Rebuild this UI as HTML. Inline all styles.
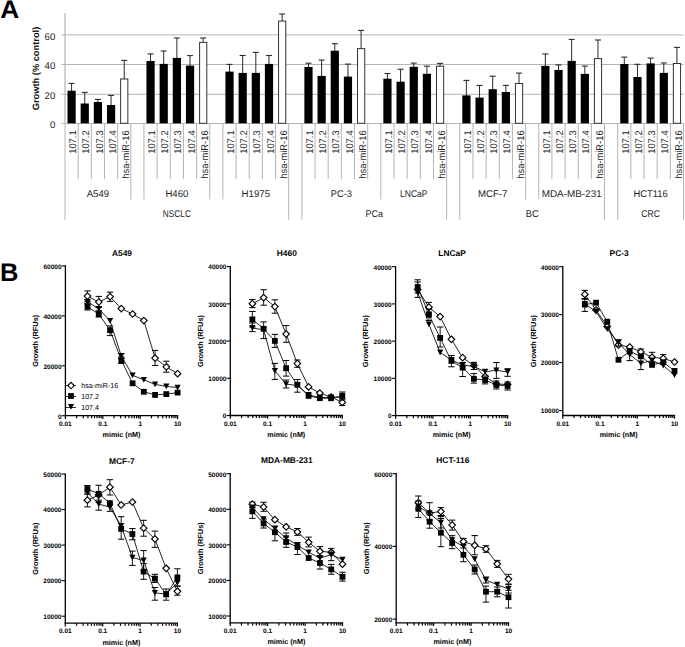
<!DOCTYPE html>
<html><head><meta charset="utf-8"><style>
html,body{margin:0;padding:0;background:#fff;}
svg{display:block;font-family:"Liberation Sans", sans-serif;text-rendering:geometricPrecision;}
</style></head><body>
<svg width="685" height="647" viewBox="0 0 685 647">
<rect width="685" height="647" fill="#fff"/>
<line x1="61.5" y1="34.90" x2="683.6" y2="34.90" stroke="#b4b4b4" stroke-width="1"/>
<line x1="61.5" y1="64.50" x2="683.6" y2="64.50" stroke="#b4b4b4" stroke-width="1"/>
<line x1="61.5" y1="94.30" x2="683.6" y2="94.30" stroke="#b4b4b4" stroke-width="1"/>
<line x1="61.5" y1="123.5" x2="683.6" y2="123.5" stroke="#b4b4b4" stroke-width="1"/>
<line x1="65" y1="13" x2="65" y2="123.4" stroke="#b4b4b4" stroke-width="1.2"/>
<text x="55.4" y="128.30" text-anchor="end" font-size="9.8" fill="#1e1e1e" textLength="5.4" lengthAdjust="spacingAndGlyphs">0</text>
<text x="55.4" y="98.80" text-anchor="end" font-size="9.8" fill="#1e1e1e" textLength="10.8" lengthAdjust="spacingAndGlyphs">20</text>
<text x="55.4" y="69.30" text-anchor="end" font-size="9.8" fill="#1e1e1e" textLength="10.8" lengthAdjust="spacingAndGlyphs">40</text>
<text x="55.4" y="39.80" text-anchor="end" font-size="9.8" fill="#1e1e1e" textLength="10.8" lengthAdjust="spacingAndGlyphs">60</text>
<text transform="translate(38.7,68.5) rotate(-90)" text-anchor="middle" font-size="9.2" font-weight="bold" fill="#111" textLength="83.5" lengthAdjust="spacingAndGlyphs">Growth (% control)</text>
<line x1="71.58" y1="91.20" x2="71.58" y2="83.40" stroke="#2a2a2a" stroke-width="1"/>
<line x1="68.58" y1="83.40" x2="74.58" y2="83.40" stroke="#2a2a2a" stroke-width="1.1"/>
<rect x="67.50" y="90.70" width="8.2" height="32.60" fill="#000"/>
<line x1="84.74" y1="104.00" x2="84.74" y2="92.40" stroke="#2a2a2a" stroke-width="1"/>
<line x1="81.74" y1="92.40" x2="87.74" y2="92.40" stroke="#2a2a2a" stroke-width="1.1"/>
<rect x="80.66" y="103.50" width="8.2" height="19.80" fill="#000"/>
<line x1="97.90" y1="102.50" x2="97.90" y2="99.40" stroke="#2a2a2a" stroke-width="1"/>
<line x1="94.90" y1="99.40" x2="100.90" y2="99.40" stroke="#2a2a2a" stroke-width="1.1"/>
<rect x="93.82" y="102.00" width="8.2" height="21.30" fill="#000"/>
<line x1="111.06" y1="105.50" x2="111.06" y2="95.40" stroke="#2a2a2a" stroke-width="1"/>
<line x1="108.06" y1="95.40" x2="114.06" y2="95.40" stroke="#2a2a2a" stroke-width="1.1"/>
<rect x="106.98" y="105.00" width="8.2" height="18.30" fill="#000"/>
<line x1="124.22" y1="79.00" x2="124.22" y2="60.40" stroke="#2a2a2a" stroke-width="1"/>
<line x1="121.22" y1="60.40" x2="127.22" y2="60.40" stroke="#2a2a2a" stroke-width="1.1"/>
<rect x="120.64" y="79.00" width="7.2" height="44.30" fill="#fff" stroke="#333" stroke-width="1"/>
<line x1="150.54" y1="61.50" x2="150.54" y2="53.90" stroke="#2a2a2a" stroke-width="1"/>
<line x1="147.54" y1="53.90" x2="153.54" y2="53.90" stroke="#2a2a2a" stroke-width="1.1"/>
<rect x="146.46" y="61.00" width="8.2" height="62.30" fill="#000"/>
<line x1="163.70" y1="64.40" x2="163.70" y2="51.00" stroke="#2a2a2a" stroke-width="1"/>
<line x1="160.70" y1="51.00" x2="166.70" y2="51.00" stroke="#2a2a2a" stroke-width="1.1"/>
<rect x="159.62" y="63.90" width="8.2" height="59.40" fill="#000"/>
<line x1="176.86" y1="58.40" x2="176.86" y2="38.00" stroke="#2a2a2a" stroke-width="1"/>
<line x1="173.86" y1="38.00" x2="179.86" y2="38.00" stroke="#2a2a2a" stroke-width="1.1"/>
<rect x="172.78" y="57.90" width="8.2" height="65.40" fill="#000"/>
<line x1="190.02" y1="66.10" x2="190.02" y2="55.60" stroke="#2a2a2a" stroke-width="1"/>
<line x1="187.02" y1="55.60" x2="193.02" y2="55.60" stroke="#2a2a2a" stroke-width="1.1"/>
<rect x="185.94" y="65.60" width="8.2" height="57.70" fill="#000"/>
<line x1="203.18" y1="42.40" x2="203.18" y2="38.00" stroke="#2a2a2a" stroke-width="1"/>
<line x1="200.18" y1="38.00" x2="206.18" y2="38.00" stroke="#2a2a2a" stroke-width="1.1"/>
<rect x="199.60" y="42.40" width="7.2" height="80.90" fill="#fff" stroke="#333" stroke-width="1"/>
<line x1="229.50" y1="72.10" x2="229.50" y2="64.40" stroke="#2a2a2a" stroke-width="1"/>
<line x1="226.50" y1="64.40" x2="232.50" y2="64.40" stroke="#2a2a2a" stroke-width="1.1"/>
<rect x="225.42" y="71.60" width="8.2" height="51.70" fill="#000"/>
<line x1="242.66" y1="73.40" x2="242.66" y2="55.50" stroke="#2a2a2a" stroke-width="1"/>
<line x1="239.66" y1="55.50" x2="245.66" y2="55.50" stroke="#2a2a2a" stroke-width="1.1"/>
<rect x="238.58" y="72.90" width="8.2" height="50.40" fill="#000"/>
<line x1="255.82" y1="73.40" x2="255.82" y2="52.40" stroke="#2a2a2a" stroke-width="1"/>
<line x1="252.82" y1="52.40" x2="258.82" y2="52.40" stroke="#2a2a2a" stroke-width="1.1"/>
<rect x="251.74" y="72.90" width="8.2" height="50.40" fill="#000"/>
<line x1="268.98" y1="64.40" x2="268.98" y2="55.50" stroke="#2a2a2a" stroke-width="1"/>
<line x1="265.98" y1="55.50" x2="271.98" y2="55.50" stroke="#2a2a2a" stroke-width="1.1"/>
<rect x="264.90" y="63.90" width="8.2" height="59.40" fill="#000"/>
<line x1="282.14" y1="21.10" x2="282.14" y2="14.00" stroke="#2a2a2a" stroke-width="1"/>
<line x1="279.14" y1="14.00" x2="285.14" y2="14.00" stroke="#2a2a2a" stroke-width="1.1"/>
<rect x="278.56" y="21.10" width="7.2" height="102.20" fill="#fff" stroke="#333" stroke-width="1"/>
<line x1="308.46" y1="67.50" x2="308.46" y2="63.20" stroke="#2a2a2a" stroke-width="1"/>
<line x1="305.46" y1="63.20" x2="311.46" y2="63.20" stroke="#2a2a2a" stroke-width="1.1"/>
<rect x="304.38" y="67.00" width="8.2" height="56.30" fill="#000"/>
<line x1="321.62" y1="76.40" x2="321.62" y2="60.10" stroke="#2a2a2a" stroke-width="1"/>
<line x1="318.62" y1="60.10" x2="324.62" y2="60.10" stroke="#2a2a2a" stroke-width="1.1"/>
<rect x="317.54" y="75.90" width="8.2" height="47.40" fill="#000"/>
<line x1="334.78" y1="51.20" x2="334.78" y2="43.70" stroke="#2a2a2a" stroke-width="1"/>
<line x1="331.78" y1="43.70" x2="337.78" y2="43.70" stroke="#2a2a2a" stroke-width="1.1"/>
<rect x="330.70" y="50.70" width="8.2" height="72.60" fill="#000"/>
<line x1="347.94" y1="77.10" x2="347.94" y2="64.10" stroke="#2a2a2a" stroke-width="1"/>
<line x1="344.94" y1="64.10" x2="350.94" y2="64.10" stroke="#2a2a2a" stroke-width="1.1"/>
<rect x="343.86" y="76.60" width="8.2" height="46.70" fill="#000"/>
<line x1="361.10" y1="48.60" x2="361.10" y2="30.40" stroke="#2a2a2a" stroke-width="1"/>
<line x1="358.10" y1="30.40" x2="364.10" y2="30.40" stroke="#2a2a2a" stroke-width="1.1"/>
<rect x="357.52" y="48.60" width="7.2" height="74.70" fill="#fff" stroke="#333" stroke-width="1"/>
<line x1="387.42" y1="79.20" x2="387.42" y2="73.50" stroke="#2a2a2a" stroke-width="1"/>
<line x1="384.42" y1="73.50" x2="390.42" y2="73.50" stroke="#2a2a2a" stroke-width="1.1"/>
<rect x="383.34" y="78.70" width="8.2" height="44.60" fill="#000"/>
<line x1="400.58" y1="82.20" x2="400.58" y2="69.30" stroke="#2a2a2a" stroke-width="1"/>
<line x1="397.58" y1="69.30" x2="403.58" y2="69.30" stroke="#2a2a2a" stroke-width="1.1"/>
<rect x="396.50" y="81.70" width="8.2" height="41.60" fill="#000"/>
<line x1="413.74" y1="67.30" x2="413.74" y2="63.10" stroke="#2a2a2a" stroke-width="1"/>
<line x1="410.74" y1="63.10" x2="416.74" y2="63.10" stroke="#2a2a2a" stroke-width="1.1"/>
<rect x="409.66" y="66.80" width="8.2" height="56.50" fill="#000"/>
<line x1="426.90" y1="74.30" x2="426.90" y2="66.20" stroke="#2a2a2a" stroke-width="1"/>
<line x1="423.90" y1="66.20" x2="429.90" y2="66.20" stroke="#2a2a2a" stroke-width="1.1"/>
<rect x="422.82" y="73.80" width="8.2" height="49.50" fill="#000"/>
<line x1="440.06" y1="66.20" x2="440.06" y2="63.40" stroke="#2a2a2a" stroke-width="1"/>
<line x1="437.06" y1="63.40" x2="443.06" y2="63.40" stroke="#2a2a2a" stroke-width="1.1"/>
<rect x="436.48" y="66.20" width="7.2" height="57.10" fill="#fff" stroke="#333" stroke-width="1"/>
<line x1="466.38" y1="95.90" x2="466.38" y2="80.40" stroke="#2a2a2a" stroke-width="1"/>
<line x1="463.38" y1="80.40" x2="469.38" y2="80.40" stroke="#2a2a2a" stroke-width="1.1"/>
<rect x="462.30" y="95.40" width="8.2" height="27.90" fill="#000"/>
<line x1="479.54" y1="98.10" x2="479.54" y2="85.40" stroke="#2a2a2a" stroke-width="1"/>
<line x1="476.54" y1="85.40" x2="482.54" y2="85.40" stroke="#2a2a2a" stroke-width="1.1"/>
<rect x="475.46" y="97.60" width="8.2" height="25.70" fill="#000"/>
<line x1="492.70" y1="89.70" x2="492.70" y2="76.20" stroke="#2a2a2a" stroke-width="1"/>
<line x1="489.70" y1="76.20" x2="495.70" y2="76.20" stroke="#2a2a2a" stroke-width="1.1"/>
<rect x="488.62" y="89.20" width="8.2" height="34.10" fill="#000"/>
<line x1="505.86" y1="92.50" x2="505.86" y2="85.40" stroke="#2a2a2a" stroke-width="1"/>
<line x1="502.86" y1="85.40" x2="508.86" y2="85.40" stroke="#2a2a2a" stroke-width="1.1"/>
<rect x="501.78" y="92.00" width="8.2" height="31.30" fill="#000"/>
<line x1="519.02" y1="83.50" x2="519.02" y2="73.10" stroke="#2a2a2a" stroke-width="1"/>
<line x1="516.02" y1="73.10" x2="522.02" y2="73.10" stroke="#2a2a2a" stroke-width="1.1"/>
<rect x="515.44" y="83.50" width="7.2" height="39.80" fill="#fff" stroke="#333" stroke-width="1"/>
<line x1="545.34" y1="66.40" x2="545.34" y2="54.00" stroke="#2a2a2a" stroke-width="1"/>
<line x1="542.34" y1="54.00" x2="548.34" y2="54.00" stroke="#2a2a2a" stroke-width="1.1"/>
<rect x="541.26" y="65.90" width="8.2" height="57.40" fill="#000"/>
<line x1="558.50" y1="70.40" x2="558.50" y2="64.90" stroke="#2a2a2a" stroke-width="1"/>
<line x1="555.50" y1="64.90" x2="561.50" y2="64.90" stroke="#2a2a2a" stroke-width="1.1"/>
<rect x="554.42" y="69.90" width="8.2" height="53.40" fill="#000"/>
<line x1="571.66" y1="61.40" x2="571.66" y2="39.40" stroke="#2a2a2a" stroke-width="1"/>
<line x1="568.66" y1="39.40" x2="574.66" y2="39.40" stroke="#2a2a2a" stroke-width="1.1"/>
<rect x="567.58" y="60.90" width="8.2" height="62.40" fill="#000"/>
<line x1="584.82" y1="74.40" x2="584.82" y2="66.10" stroke="#2a2a2a" stroke-width="1"/>
<line x1="581.82" y1="66.10" x2="587.82" y2="66.10" stroke="#2a2a2a" stroke-width="1.1"/>
<rect x="580.74" y="73.90" width="8.2" height="49.40" fill="#000"/>
<line x1="597.98" y1="58.60" x2="597.98" y2="40.00" stroke="#2a2a2a" stroke-width="1"/>
<line x1="594.98" y1="40.00" x2="600.98" y2="40.00" stroke="#2a2a2a" stroke-width="1.1"/>
<rect x="594.40" y="58.60" width="7.2" height="64.70" fill="#fff" stroke="#333" stroke-width="1"/>
<line x1="624.30" y1="64.50" x2="624.30" y2="57.10" stroke="#2a2a2a" stroke-width="1"/>
<line x1="621.30" y1="57.10" x2="627.30" y2="57.10" stroke="#2a2a2a" stroke-width="1.1"/>
<rect x="620.22" y="64.00" width="8.2" height="59.30" fill="#000"/>
<line x1="637.46" y1="77.50" x2="637.46" y2="64.30" stroke="#2a2a2a" stroke-width="1"/>
<line x1="634.46" y1="64.30" x2="640.46" y2="64.30" stroke="#2a2a2a" stroke-width="1.1"/>
<rect x="633.38" y="77.00" width="8.2" height="46.30" fill="#000"/>
<line x1="650.62" y1="63.90" x2="650.62" y2="58.10" stroke="#2a2a2a" stroke-width="1"/>
<line x1="647.62" y1="58.10" x2="653.62" y2="58.10" stroke="#2a2a2a" stroke-width="1.1"/>
<rect x="646.54" y="63.40" width="8.2" height="59.90" fill="#000"/>
<line x1="663.78" y1="73.40" x2="663.78" y2="63.00" stroke="#2a2a2a" stroke-width="1"/>
<line x1="660.78" y1="63.00" x2="666.78" y2="63.00" stroke="#2a2a2a" stroke-width="1.1"/>
<rect x="659.70" y="72.90" width="8.2" height="50.40" fill="#000"/>
<line x1="676.94" y1="63.50" x2="676.94" y2="47.40" stroke="#2a2a2a" stroke-width="1"/>
<line x1="673.94" y1="47.40" x2="679.94" y2="47.40" stroke="#2a2a2a" stroke-width="1.1"/>
<rect x="673.36" y="63.50" width="7.2" height="59.80" fill="#fff" stroke="#333" stroke-width="1"/>
<line x1="65.00" y1="123.4" x2="65.00" y2="219.7" stroke="#b4b4b4" stroke-width="1"/>
<line x1="78.16" y1="123.4" x2="78.16" y2="179.2" stroke="#b4b4b4" stroke-width="1"/>
<line x1="91.32" y1="123.4" x2="91.32" y2="179.2" stroke="#b4b4b4" stroke-width="1"/>
<line x1="104.48" y1="123.4" x2="104.48" y2="179.2" stroke="#b4b4b4" stroke-width="1"/>
<line x1="117.64" y1="123.4" x2="117.64" y2="179.2" stroke="#b4b4b4" stroke-width="1"/>
<line x1="130.80" y1="123.4" x2="130.80" y2="199.4" stroke="#b4b4b4" stroke-width="1"/>
<line x1="143.96" y1="123.4" x2="143.96" y2="199.4" stroke="#b4b4b4" stroke-width="1"/>
<line x1="157.12" y1="123.4" x2="157.12" y2="179.2" stroke="#b4b4b4" stroke-width="1"/>
<line x1="170.28" y1="123.4" x2="170.28" y2="179.2" stroke="#b4b4b4" stroke-width="1"/>
<line x1="183.44" y1="123.4" x2="183.44" y2="179.2" stroke="#b4b4b4" stroke-width="1"/>
<line x1="196.60" y1="123.4" x2="196.60" y2="179.2" stroke="#b4b4b4" stroke-width="1"/>
<line x1="209.76" y1="123.4" x2="209.76" y2="199.4" stroke="#b4b4b4" stroke-width="1"/>
<line x1="222.92" y1="123.4" x2="222.92" y2="199.4" stroke="#b4b4b4" stroke-width="1"/>
<line x1="236.08" y1="123.4" x2="236.08" y2="179.2" stroke="#b4b4b4" stroke-width="1"/>
<line x1="249.24" y1="123.4" x2="249.24" y2="179.2" stroke="#b4b4b4" stroke-width="1"/>
<line x1="262.40" y1="123.4" x2="262.40" y2="179.2" stroke="#b4b4b4" stroke-width="1"/>
<line x1="275.56" y1="123.4" x2="275.56" y2="179.2" stroke="#b4b4b4" stroke-width="1"/>
<line x1="288.72" y1="123.4" x2="288.72" y2="219.7" stroke="#b4b4b4" stroke-width="1"/>
<line x1="301.88" y1="123.4" x2="301.88" y2="219.7" stroke="#b4b4b4" stroke-width="1"/>
<line x1="315.04" y1="123.4" x2="315.04" y2="179.2" stroke="#b4b4b4" stroke-width="1"/>
<line x1="328.20" y1="123.4" x2="328.20" y2="179.2" stroke="#b4b4b4" stroke-width="1"/>
<line x1="341.36" y1="123.4" x2="341.36" y2="179.2" stroke="#b4b4b4" stroke-width="1"/>
<line x1="354.52" y1="123.4" x2="354.52" y2="179.2" stroke="#b4b4b4" stroke-width="1"/>
<line x1="367.68" y1="123.4" x2="367.68" y2="179.2" stroke="#b4b4b4" stroke-width="1"/>
<line x1="380.84" y1="123.4" x2="380.84" y2="199.4" stroke="#b4b4b4" stroke-width="1"/>
<line x1="394.00" y1="123.4" x2="394.00" y2="179.2" stroke="#b4b4b4" stroke-width="1"/>
<line x1="407.16" y1="123.4" x2="407.16" y2="179.2" stroke="#b4b4b4" stroke-width="1"/>
<line x1="420.32" y1="123.4" x2="420.32" y2="179.2" stroke="#b4b4b4" stroke-width="1"/>
<line x1="433.48" y1="123.4" x2="433.48" y2="179.2" stroke="#b4b4b4" stroke-width="1"/>
<line x1="446.64" y1="123.4" x2="446.64" y2="219.7" stroke="#b4b4b4" stroke-width="1"/>
<line x1="459.80" y1="123.4" x2="459.80" y2="219.7" stroke="#b4b4b4" stroke-width="1"/>
<line x1="472.96" y1="123.4" x2="472.96" y2="179.2" stroke="#b4b4b4" stroke-width="1"/>
<line x1="486.12" y1="123.4" x2="486.12" y2="179.2" stroke="#b4b4b4" stroke-width="1"/>
<line x1="499.28" y1="123.4" x2="499.28" y2="179.2" stroke="#b4b4b4" stroke-width="1"/>
<line x1="512.44" y1="123.4" x2="512.44" y2="179.2" stroke="#b4b4b4" stroke-width="1"/>
<line x1="525.60" y1="123.4" x2="525.60" y2="199.4" stroke="#b4b4b4" stroke-width="1"/>
<line x1="538.76" y1="123.4" x2="538.76" y2="199.4" stroke="#b4b4b4" stroke-width="1"/>
<line x1="551.92" y1="123.4" x2="551.92" y2="179.2" stroke="#b4b4b4" stroke-width="1"/>
<line x1="565.08" y1="123.4" x2="565.08" y2="179.2" stroke="#b4b4b4" stroke-width="1"/>
<line x1="578.24" y1="123.4" x2="578.24" y2="179.2" stroke="#b4b4b4" stroke-width="1"/>
<line x1="591.40" y1="123.4" x2="591.40" y2="179.2" stroke="#b4b4b4" stroke-width="1"/>
<line x1="604.56" y1="123.4" x2="604.56" y2="219.7" stroke="#b4b4b4" stroke-width="1"/>
<line x1="617.72" y1="123.4" x2="617.72" y2="219.7" stroke="#b4b4b4" stroke-width="1"/>
<line x1="630.88" y1="123.4" x2="630.88" y2="179.2" stroke="#b4b4b4" stroke-width="1"/>
<line x1="644.04" y1="123.4" x2="644.04" y2="179.2" stroke="#b4b4b4" stroke-width="1"/>
<line x1="657.20" y1="123.4" x2="657.20" y2="179.2" stroke="#b4b4b4" stroke-width="1"/>
<line x1="670.36" y1="123.4" x2="670.36" y2="179.2" stroke="#b4b4b4" stroke-width="1"/>
<line x1="683.52" y1="123.4" x2="683.52" y2="219.7" stroke="#b4b4b4" stroke-width="1"/>
<text transform="translate(76.18,130.4) rotate(-90)" text-anchor="end" font-size="9.8" fill="#1e1e1e" textLength="23.4" lengthAdjust="spacingAndGlyphs">107.1</text>
<text transform="translate(89.34,130.4) rotate(-90)" text-anchor="end" font-size="9.8" fill="#1e1e1e" textLength="23.4" lengthAdjust="spacingAndGlyphs">107.2</text>
<text transform="translate(102.50,130.4) rotate(-90)" text-anchor="end" font-size="9.8" fill="#1e1e1e" textLength="23.4" lengthAdjust="spacingAndGlyphs">107.3</text>
<text transform="translate(115.66,130.4) rotate(-90)" text-anchor="end" font-size="9.8" fill="#1e1e1e" textLength="23.4" lengthAdjust="spacingAndGlyphs">107.4</text>
<text transform="translate(128.82,130.4) rotate(-90)" text-anchor="end" font-size="9.8" fill="#1e1e1e" textLength="48.3" lengthAdjust="spacingAndGlyphs">hsa-miR-16</text>
<text transform="translate(155.14,130.4) rotate(-90)" text-anchor="end" font-size="9.8" fill="#1e1e1e" textLength="23.4" lengthAdjust="spacingAndGlyphs">107.1</text>
<text transform="translate(168.30,130.4) rotate(-90)" text-anchor="end" font-size="9.8" fill="#1e1e1e" textLength="23.4" lengthAdjust="spacingAndGlyphs">107.2</text>
<text transform="translate(181.46,130.4) rotate(-90)" text-anchor="end" font-size="9.8" fill="#1e1e1e" textLength="23.4" lengthAdjust="spacingAndGlyphs">107.3</text>
<text transform="translate(194.62,130.4) rotate(-90)" text-anchor="end" font-size="9.8" fill="#1e1e1e" textLength="23.4" lengthAdjust="spacingAndGlyphs">107.4</text>
<text transform="translate(207.78,130.4) rotate(-90)" text-anchor="end" font-size="9.8" fill="#1e1e1e" textLength="48.3" lengthAdjust="spacingAndGlyphs">hsa-miR-16</text>
<text transform="translate(234.10,130.4) rotate(-90)" text-anchor="end" font-size="9.8" fill="#1e1e1e" textLength="23.4" lengthAdjust="spacingAndGlyphs">107.1</text>
<text transform="translate(247.26,130.4) rotate(-90)" text-anchor="end" font-size="9.8" fill="#1e1e1e" textLength="23.4" lengthAdjust="spacingAndGlyphs">107.2</text>
<text transform="translate(260.42,130.4) rotate(-90)" text-anchor="end" font-size="9.8" fill="#1e1e1e" textLength="23.4" lengthAdjust="spacingAndGlyphs">107.3</text>
<text transform="translate(273.58,130.4) rotate(-90)" text-anchor="end" font-size="9.8" fill="#1e1e1e" textLength="23.4" lengthAdjust="spacingAndGlyphs">107.4</text>
<text transform="translate(286.74,130.4) rotate(-90)" text-anchor="end" font-size="9.8" fill="#1e1e1e" textLength="48.3" lengthAdjust="spacingAndGlyphs">hsa-miR-16</text>
<text transform="translate(313.06,130.4) rotate(-90)" text-anchor="end" font-size="9.8" fill="#1e1e1e" textLength="23.4" lengthAdjust="spacingAndGlyphs">107.1</text>
<text transform="translate(326.22,130.4) rotate(-90)" text-anchor="end" font-size="9.8" fill="#1e1e1e" textLength="23.4" lengthAdjust="spacingAndGlyphs">107.2</text>
<text transform="translate(339.38,130.4) rotate(-90)" text-anchor="end" font-size="9.8" fill="#1e1e1e" textLength="23.4" lengthAdjust="spacingAndGlyphs">107.3</text>
<text transform="translate(352.54,130.4) rotate(-90)" text-anchor="end" font-size="9.8" fill="#1e1e1e" textLength="23.4" lengthAdjust="spacingAndGlyphs">107.4</text>
<text transform="translate(365.70,130.4) rotate(-90)" text-anchor="end" font-size="9.8" fill="#1e1e1e" textLength="48.3" lengthAdjust="spacingAndGlyphs">hsa-miR-16</text>
<text transform="translate(392.02,130.4) rotate(-90)" text-anchor="end" font-size="9.8" fill="#1e1e1e" textLength="23.4" lengthAdjust="spacingAndGlyphs">107.1</text>
<text transform="translate(405.18,130.4) rotate(-90)" text-anchor="end" font-size="9.8" fill="#1e1e1e" textLength="23.4" lengthAdjust="spacingAndGlyphs">107.2</text>
<text transform="translate(418.34,130.4) rotate(-90)" text-anchor="end" font-size="9.8" fill="#1e1e1e" textLength="23.4" lengthAdjust="spacingAndGlyphs">107.3</text>
<text transform="translate(431.50,130.4) rotate(-90)" text-anchor="end" font-size="9.8" fill="#1e1e1e" textLength="23.4" lengthAdjust="spacingAndGlyphs">107.4</text>
<text transform="translate(444.66,130.4) rotate(-90)" text-anchor="end" font-size="9.8" fill="#1e1e1e" textLength="48.3" lengthAdjust="spacingAndGlyphs">hsa-miR-16</text>
<text transform="translate(470.98,130.4) rotate(-90)" text-anchor="end" font-size="9.8" fill="#1e1e1e" textLength="23.4" lengthAdjust="spacingAndGlyphs">107.1</text>
<text transform="translate(484.14,130.4) rotate(-90)" text-anchor="end" font-size="9.8" fill="#1e1e1e" textLength="23.4" lengthAdjust="spacingAndGlyphs">107.2</text>
<text transform="translate(497.30,130.4) rotate(-90)" text-anchor="end" font-size="9.8" fill="#1e1e1e" textLength="23.4" lengthAdjust="spacingAndGlyphs">107.3</text>
<text transform="translate(510.46,130.4) rotate(-90)" text-anchor="end" font-size="9.8" fill="#1e1e1e" textLength="23.4" lengthAdjust="spacingAndGlyphs">107.4</text>
<text transform="translate(523.62,130.4) rotate(-90)" text-anchor="end" font-size="9.8" fill="#1e1e1e" textLength="48.3" lengthAdjust="spacingAndGlyphs">hsa-miR-16</text>
<text transform="translate(549.94,130.4) rotate(-90)" text-anchor="end" font-size="9.8" fill="#1e1e1e" textLength="23.4" lengthAdjust="spacingAndGlyphs">107.1</text>
<text transform="translate(563.10,130.4) rotate(-90)" text-anchor="end" font-size="9.8" fill="#1e1e1e" textLength="23.4" lengthAdjust="spacingAndGlyphs">107.2</text>
<text transform="translate(576.26,130.4) rotate(-90)" text-anchor="end" font-size="9.8" fill="#1e1e1e" textLength="23.4" lengthAdjust="spacingAndGlyphs">107.3</text>
<text transform="translate(589.42,130.4) rotate(-90)" text-anchor="end" font-size="9.8" fill="#1e1e1e" textLength="23.4" lengthAdjust="spacingAndGlyphs">107.4</text>
<text transform="translate(602.58,130.4) rotate(-90)" text-anchor="end" font-size="9.8" fill="#1e1e1e" textLength="48.3" lengthAdjust="spacingAndGlyphs">hsa-miR-16</text>
<text transform="translate(628.90,130.4) rotate(-90)" text-anchor="end" font-size="9.8" fill="#1e1e1e" textLength="23.4" lengthAdjust="spacingAndGlyphs">107.1</text>
<text transform="translate(642.06,130.4) rotate(-90)" text-anchor="end" font-size="9.8" fill="#1e1e1e" textLength="23.4" lengthAdjust="spacingAndGlyphs">107.2</text>
<text transform="translate(655.22,130.4) rotate(-90)" text-anchor="end" font-size="9.8" fill="#1e1e1e" textLength="23.4" lengthAdjust="spacingAndGlyphs">107.3</text>
<text transform="translate(668.38,130.4) rotate(-90)" text-anchor="end" font-size="9.8" fill="#1e1e1e" textLength="23.4" lengthAdjust="spacingAndGlyphs">107.4</text>
<text transform="translate(681.54,130.4) rotate(-90)" text-anchor="end" font-size="9.8" fill="#1e1e1e" textLength="48.3" lengthAdjust="spacingAndGlyphs">hsa-miR-16</text>
<text x="97.90" y="197.0" text-anchor="middle" font-size="9.8" fill="#1e1e1e" textLength="22.3" lengthAdjust="spacingAndGlyphs">A549</text>
<text x="176.86" y="197.0" text-anchor="middle" font-size="9.8" fill="#1e1e1e" textLength="22.8" lengthAdjust="spacingAndGlyphs">H460</text>
<text x="255.82" y="197.0" text-anchor="middle" font-size="9.8" fill="#1e1e1e" textLength="28.5" lengthAdjust="spacingAndGlyphs">H1975</text>
<text x="341.36" y="197.0" text-anchor="middle" font-size="9.8" fill="#1e1e1e" textLength="21" lengthAdjust="spacingAndGlyphs">PC-3</text>
<text x="413.74" y="197.0" text-anchor="middle" font-size="9.8" fill="#1e1e1e" textLength="27.5" lengthAdjust="spacingAndGlyphs">LNCaP</text>
<text x="492.70" y="197.0" text-anchor="middle" font-size="9.8" fill="#1e1e1e" textLength="29.5" lengthAdjust="spacingAndGlyphs">MCF-7</text>
<text x="571.66" y="197.0" text-anchor="middle" font-size="9.8" fill="#1e1e1e" textLength="60" lengthAdjust="spacingAndGlyphs">MDA-MB-231</text>
<text x="650.62" y="197.0" text-anchor="middle" font-size="9.8" fill="#1e1e1e" textLength="34.3" lengthAdjust="spacingAndGlyphs">HCT116</text>
<text x="176.86" y="217.4" text-anchor="middle" font-size="9.8" fill="#1e1e1e" textLength="28" lengthAdjust="spacingAndGlyphs">NSCLC</text>
<text x="374.26" y="217.4" text-anchor="middle" font-size="9.8" fill="#1e1e1e" textLength="17.3" lengthAdjust="spacingAndGlyphs">PCa</text>
<text x="532.18" y="217.4" text-anchor="middle" font-size="9.8" fill="#1e1e1e" textLength="13" lengthAdjust="spacingAndGlyphs">BC</text>
<text x="650.62" y="217.4" text-anchor="middle" font-size="9.8" fill="#1e1e1e" textLength="18.5" lengthAdjust="spacingAndGlyphs">CRC</text>
<text transform="translate(0.3,18.3) scale(1.05,1.02)" font-size="25" font-weight="bold" fill="#000">A</text>
<text x="0" y="281.2" font-size="25.5" font-weight="bold" fill="#000">B</text>
<line x1="65.40" y1="265.30" x2="65.40" y2="416.30" stroke="#000" stroke-width="1.3"/>
<line x1="64.80" y1="415.70" x2="178.20" y2="415.70" stroke="#000" stroke-width="1.3"/>
<line x1="61.80" y1="415.70" x2="65.40" y2="415.70" stroke="#000" stroke-width="1.1"/>
<text x="61.50" y="418.50" text-anchor="end" font-size="6.5" font-weight="bold" fill="#000">0</text>
<line x1="61.80" y1="365.77" x2="65.40" y2="365.77" stroke="#000" stroke-width="1.1"/>
<text x="61.50" y="368.57" text-anchor="end" font-size="6.5" font-weight="bold" fill="#000">20000</text>
<line x1="61.80" y1="315.83" x2="65.40" y2="315.83" stroke="#000" stroke-width="1.1"/>
<text x="61.50" y="318.63" text-anchor="end" font-size="6.5" font-weight="bold" fill="#000">40000</text>
<line x1="61.80" y1="265.90" x2="65.40" y2="265.90" stroke="#000" stroke-width="1.1"/>
<text x="61.50" y="268.70" text-anchor="end" font-size="6.5" font-weight="bold" fill="#000">60000</text>
<line x1="65.40" y1="415.70" x2="65.40" y2="418.90" stroke="#000" stroke-width="1.2"/>
<line x1="76.66" y1="415.70" x2="76.66" y2="418.30" stroke="#000" stroke-width="1.2"/>
<line x1="83.24" y1="415.70" x2="83.24" y2="418.30" stroke="#000" stroke-width="1.2"/>
<line x1="87.92" y1="415.70" x2="87.92" y2="418.30" stroke="#000" stroke-width="1.2"/>
<line x1="91.54" y1="415.70" x2="91.54" y2="418.30" stroke="#000" stroke-width="1.2"/>
<line x1="94.50" y1="415.70" x2="94.50" y2="418.30" stroke="#000" stroke-width="1.2"/>
<line x1="97.01" y1="415.70" x2="97.01" y2="418.30" stroke="#000" stroke-width="1.2"/>
<line x1="99.18" y1="415.70" x2="99.18" y2="418.30" stroke="#000" stroke-width="1.2"/>
<line x1="101.09" y1="415.70" x2="101.09" y2="418.30" stroke="#000" stroke-width="1.2"/>
<line x1="102.80" y1="415.70" x2="102.80" y2="418.90" stroke="#000" stroke-width="1.2"/>
<line x1="114.06" y1="415.70" x2="114.06" y2="418.30" stroke="#000" stroke-width="1.2"/>
<line x1="120.64" y1="415.70" x2="120.64" y2="418.30" stroke="#000" stroke-width="1.2"/>
<line x1="125.32" y1="415.70" x2="125.32" y2="418.30" stroke="#000" stroke-width="1.2"/>
<line x1="128.94" y1="415.70" x2="128.94" y2="418.30" stroke="#000" stroke-width="1.2"/>
<line x1="131.90" y1="415.70" x2="131.90" y2="418.30" stroke="#000" stroke-width="1.2"/>
<line x1="134.41" y1="415.70" x2="134.41" y2="418.30" stroke="#000" stroke-width="1.2"/>
<line x1="136.58" y1="415.70" x2="136.58" y2="418.30" stroke="#000" stroke-width="1.2"/>
<line x1="138.49" y1="415.70" x2="138.49" y2="418.30" stroke="#000" stroke-width="1.2"/>
<line x1="140.20" y1="415.70" x2="140.20" y2="418.90" stroke="#000" stroke-width="1.2"/>
<line x1="151.46" y1="415.70" x2="151.46" y2="418.30" stroke="#000" stroke-width="1.2"/>
<line x1="158.04" y1="415.70" x2="158.04" y2="418.30" stroke="#000" stroke-width="1.2"/>
<line x1="162.72" y1="415.70" x2="162.72" y2="418.30" stroke="#000" stroke-width="1.2"/>
<line x1="166.34" y1="415.70" x2="166.34" y2="418.30" stroke="#000" stroke-width="1.2"/>
<line x1="169.30" y1="415.70" x2="169.30" y2="418.30" stroke="#000" stroke-width="1.2"/>
<line x1="171.81" y1="415.70" x2="171.81" y2="418.30" stroke="#000" stroke-width="1.2"/>
<line x1="173.98" y1="415.70" x2="173.98" y2="418.30" stroke="#000" stroke-width="1.2"/>
<line x1="175.89" y1="415.70" x2="175.89" y2="418.30" stroke="#000" stroke-width="1.2"/>
<line x1="177.60" y1="415.70" x2="177.60" y2="418.90" stroke="#000" stroke-width="1.2"/>
<text x="65.40" y="425.80" text-anchor="middle" font-size="6.5" font-weight="bold" fill="#000">0.01</text>
<text x="102.80" y="425.80" text-anchor="middle" font-size="6.5" font-weight="bold" fill="#000">0.1</text>
<text x="140.20" y="425.80" text-anchor="middle" font-size="6.5" font-weight="bold" fill="#000">1</text>
<text x="177.60" y="425.80" text-anchor="middle" font-size="6.5" font-weight="bold" fill="#000">10</text>
<text x="121.50" y="437.00" text-anchor="middle" font-size="7.2" font-weight="bold" fill="#000">mimic (nM)</text>
<text x="122.00" y="256.20" text-anchor="middle" font-size="8.4" font-weight="bold" fill="#000">A549</text>
<text transform="translate(38.20,340.80) rotate(-90)" text-anchor="middle" font-size="7.4" font-weight="bold" fill="#000">Growth (RFUs)</text>
<line x1="230.30" y1="266.00" x2="230.30" y2="416.10" stroke="#000" stroke-width="1.3"/>
<line x1="229.70" y1="415.50" x2="342.90" y2="415.50" stroke="#000" stroke-width="1.3"/>
<line x1="226.70" y1="415.50" x2="230.30" y2="415.50" stroke="#000" stroke-width="1.1"/>
<text x="226.40" y="418.30" text-anchor="end" font-size="6.5" font-weight="bold" fill="#000">0</text>
<line x1="226.70" y1="378.27" x2="230.30" y2="378.27" stroke="#000" stroke-width="1.1"/>
<text x="226.40" y="381.07" text-anchor="end" font-size="6.5" font-weight="bold" fill="#000">10000</text>
<line x1="226.70" y1="341.05" x2="230.30" y2="341.05" stroke="#000" stroke-width="1.1"/>
<text x="226.40" y="343.85" text-anchor="end" font-size="6.5" font-weight="bold" fill="#000">20000</text>
<line x1="226.70" y1="303.83" x2="230.30" y2="303.83" stroke="#000" stroke-width="1.1"/>
<text x="226.40" y="306.63" text-anchor="end" font-size="6.5" font-weight="bold" fill="#000">30000</text>
<line x1="226.70" y1="266.60" x2="230.30" y2="266.60" stroke="#000" stroke-width="1.1"/>
<text x="226.40" y="269.40" text-anchor="end" font-size="6.5" font-weight="bold" fill="#000">40000</text>
<line x1="230.30" y1="415.50" x2="230.30" y2="418.70" stroke="#000" stroke-width="1.2"/>
<line x1="241.54" y1="415.50" x2="241.54" y2="418.10" stroke="#000" stroke-width="1.2"/>
<line x1="248.11" y1="415.50" x2="248.11" y2="418.10" stroke="#000" stroke-width="1.2"/>
<line x1="252.78" y1="415.50" x2="252.78" y2="418.10" stroke="#000" stroke-width="1.2"/>
<line x1="256.39" y1="415.50" x2="256.39" y2="418.10" stroke="#000" stroke-width="1.2"/>
<line x1="259.35" y1="415.50" x2="259.35" y2="418.10" stroke="#000" stroke-width="1.2"/>
<line x1="261.85" y1="415.50" x2="261.85" y2="418.10" stroke="#000" stroke-width="1.2"/>
<line x1="264.02" y1="415.50" x2="264.02" y2="418.10" stroke="#000" stroke-width="1.2"/>
<line x1="265.93" y1="415.50" x2="265.93" y2="418.10" stroke="#000" stroke-width="1.2"/>
<line x1="267.63" y1="415.50" x2="267.63" y2="418.70" stroke="#000" stroke-width="1.2"/>
<line x1="278.87" y1="415.50" x2="278.87" y2="418.10" stroke="#000" stroke-width="1.2"/>
<line x1="285.45" y1="415.50" x2="285.45" y2="418.10" stroke="#000" stroke-width="1.2"/>
<line x1="290.11" y1="415.50" x2="290.11" y2="418.10" stroke="#000" stroke-width="1.2"/>
<line x1="293.73" y1="415.50" x2="293.73" y2="418.10" stroke="#000" stroke-width="1.2"/>
<line x1="296.68" y1="415.50" x2="296.68" y2="418.10" stroke="#000" stroke-width="1.2"/>
<line x1="299.18" y1="415.50" x2="299.18" y2="418.10" stroke="#000" stroke-width="1.2"/>
<line x1="301.35" y1="415.50" x2="301.35" y2="418.10" stroke="#000" stroke-width="1.2"/>
<line x1="303.26" y1="415.50" x2="303.26" y2="418.10" stroke="#000" stroke-width="1.2"/>
<line x1="304.97" y1="415.50" x2="304.97" y2="418.70" stroke="#000" stroke-width="1.2"/>
<line x1="316.21" y1="415.50" x2="316.21" y2="418.10" stroke="#000" stroke-width="1.2"/>
<line x1="322.78" y1="415.50" x2="322.78" y2="418.10" stroke="#000" stroke-width="1.2"/>
<line x1="327.44" y1="415.50" x2="327.44" y2="418.10" stroke="#000" stroke-width="1.2"/>
<line x1="331.06" y1="415.50" x2="331.06" y2="418.10" stroke="#000" stroke-width="1.2"/>
<line x1="334.02" y1="415.50" x2="334.02" y2="418.10" stroke="#000" stroke-width="1.2"/>
<line x1="336.52" y1="415.50" x2="336.52" y2="418.10" stroke="#000" stroke-width="1.2"/>
<line x1="338.68" y1="415.50" x2="338.68" y2="418.10" stroke="#000" stroke-width="1.2"/>
<line x1="340.59" y1="415.50" x2="340.59" y2="418.10" stroke="#000" stroke-width="1.2"/>
<line x1="342.30" y1="415.50" x2="342.30" y2="418.70" stroke="#000" stroke-width="1.2"/>
<text x="230.30" y="425.60" text-anchor="middle" font-size="6.5" font-weight="bold" fill="#000">0.01</text>
<text x="267.63" y="425.60" text-anchor="middle" font-size="6.5" font-weight="bold" fill="#000">0.1</text>
<text x="304.97" y="425.60" text-anchor="middle" font-size="6.5" font-weight="bold" fill="#000">1</text>
<text x="342.30" y="425.60" text-anchor="middle" font-size="6.5" font-weight="bold" fill="#000">10</text>
<text x="286.30" y="436.80" text-anchor="middle" font-size="7.2" font-weight="bold" fill="#000">mimic (nM)</text>
<text x="286.80" y="256.00" text-anchor="middle" font-size="8.4" font-weight="bold" fill="#000">H460</text>
<text transform="translate(203.10,341.05) rotate(-90)" text-anchor="middle" font-size="7.4" font-weight="bold" fill="#000">Growth (RFUs)</text>
<line x1="395.60" y1="266.10" x2="395.60" y2="416.20" stroke="#000" stroke-width="1.3"/>
<line x1="395.00" y1="415.60" x2="508.20" y2="415.60" stroke="#000" stroke-width="1.3"/>
<line x1="392.00" y1="415.60" x2="395.60" y2="415.60" stroke="#000" stroke-width="1.1"/>
<text x="391.70" y="418.40" text-anchor="end" font-size="6.5" font-weight="bold" fill="#000">0</text>
<line x1="392.00" y1="378.38" x2="395.60" y2="378.38" stroke="#000" stroke-width="1.1"/>
<text x="391.70" y="381.18" text-anchor="end" font-size="6.5" font-weight="bold" fill="#000">10000</text>
<line x1="392.00" y1="341.15" x2="395.60" y2="341.15" stroke="#000" stroke-width="1.1"/>
<text x="391.70" y="343.95" text-anchor="end" font-size="6.5" font-weight="bold" fill="#000">20000</text>
<line x1="392.00" y1="303.93" x2="395.60" y2="303.93" stroke="#000" stroke-width="1.1"/>
<text x="391.70" y="306.73" text-anchor="end" font-size="6.5" font-weight="bold" fill="#000">30000</text>
<line x1="392.00" y1="266.70" x2="395.60" y2="266.70" stroke="#000" stroke-width="1.1"/>
<text x="391.70" y="269.50" text-anchor="end" font-size="6.5" font-weight="bold" fill="#000">40000</text>
<line x1="395.60" y1="415.60" x2="395.60" y2="418.80" stroke="#000" stroke-width="1.2"/>
<line x1="406.84" y1="415.60" x2="406.84" y2="418.20" stroke="#000" stroke-width="1.2"/>
<line x1="413.41" y1="415.60" x2="413.41" y2="418.20" stroke="#000" stroke-width="1.2"/>
<line x1="418.08" y1="415.60" x2="418.08" y2="418.20" stroke="#000" stroke-width="1.2"/>
<line x1="421.69" y1="415.60" x2="421.69" y2="418.20" stroke="#000" stroke-width="1.2"/>
<line x1="424.65" y1="415.60" x2="424.65" y2="418.20" stroke="#000" stroke-width="1.2"/>
<line x1="427.15" y1="415.60" x2="427.15" y2="418.20" stroke="#000" stroke-width="1.2"/>
<line x1="429.32" y1="415.60" x2="429.32" y2="418.20" stroke="#000" stroke-width="1.2"/>
<line x1="431.23" y1="415.60" x2="431.23" y2="418.20" stroke="#000" stroke-width="1.2"/>
<line x1="432.93" y1="415.60" x2="432.93" y2="418.80" stroke="#000" stroke-width="1.2"/>
<line x1="444.17" y1="415.60" x2="444.17" y2="418.20" stroke="#000" stroke-width="1.2"/>
<line x1="450.75" y1="415.60" x2="450.75" y2="418.20" stroke="#000" stroke-width="1.2"/>
<line x1="455.41" y1="415.60" x2="455.41" y2="418.20" stroke="#000" stroke-width="1.2"/>
<line x1="459.03" y1="415.60" x2="459.03" y2="418.20" stroke="#000" stroke-width="1.2"/>
<line x1="461.98" y1="415.60" x2="461.98" y2="418.20" stroke="#000" stroke-width="1.2"/>
<line x1="464.48" y1="415.60" x2="464.48" y2="418.20" stroke="#000" stroke-width="1.2"/>
<line x1="466.65" y1="415.60" x2="466.65" y2="418.20" stroke="#000" stroke-width="1.2"/>
<line x1="468.56" y1="415.60" x2="468.56" y2="418.20" stroke="#000" stroke-width="1.2"/>
<line x1="470.27" y1="415.60" x2="470.27" y2="418.80" stroke="#000" stroke-width="1.2"/>
<line x1="481.51" y1="415.60" x2="481.51" y2="418.20" stroke="#000" stroke-width="1.2"/>
<line x1="488.08" y1="415.60" x2="488.08" y2="418.20" stroke="#000" stroke-width="1.2"/>
<line x1="492.74" y1="415.60" x2="492.74" y2="418.20" stroke="#000" stroke-width="1.2"/>
<line x1="496.36" y1="415.60" x2="496.36" y2="418.20" stroke="#000" stroke-width="1.2"/>
<line x1="499.32" y1="415.60" x2="499.32" y2="418.20" stroke="#000" stroke-width="1.2"/>
<line x1="501.82" y1="415.60" x2="501.82" y2="418.20" stroke="#000" stroke-width="1.2"/>
<line x1="503.98" y1="415.60" x2="503.98" y2="418.20" stroke="#000" stroke-width="1.2"/>
<line x1="505.89" y1="415.60" x2="505.89" y2="418.20" stroke="#000" stroke-width="1.2"/>
<line x1="507.60" y1="415.60" x2="507.60" y2="418.80" stroke="#000" stroke-width="1.2"/>
<text x="395.60" y="425.70" text-anchor="middle" font-size="6.5" font-weight="bold" fill="#000">0.01</text>
<text x="432.93" y="425.70" text-anchor="middle" font-size="6.5" font-weight="bold" fill="#000">0.1</text>
<text x="470.27" y="425.70" text-anchor="middle" font-size="6.5" font-weight="bold" fill="#000">1</text>
<text x="507.60" y="425.70" text-anchor="middle" font-size="6.5" font-weight="bold" fill="#000">10</text>
<text x="451.60" y="436.90" text-anchor="middle" font-size="7.2" font-weight="bold" fill="#000">mimic (nM)</text>
<text x="452.10" y="256.10" text-anchor="middle" font-size="8.4" font-weight="bold" fill="#000">LNCaP</text>
<text transform="translate(368.40,341.15) rotate(-90)" text-anchor="middle" font-size="7.4" font-weight="bold" fill="#000">Growth (RFUs)</text>
<line x1="562.80" y1="266.10" x2="562.80" y2="416.10" stroke="#000" stroke-width="1.3"/>
<line x1="562.20" y1="415.50" x2="675.10" y2="415.50" stroke="#000" stroke-width="1.3"/>
<line x1="559.20" y1="410.60" x2="562.80" y2="410.60" stroke="#000" stroke-width="1.1"/>
<text x="558.90" y="413.40" text-anchor="end" font-size="6.5" font-weight="bold" fill="#000">10000</text>
<line x1="559.20" y1="362.63" x2="562.80" y2="362.63" stroke="#000" stroke-width="1.1"/>
<text x="558.90" y="365.43" text-anchor="end" font-size="6.5" font-weight="bold" fill="#000">20000</text>
<line x1="559.20" y1="314.67" x2="562.80" y2="314.67" stroke="#000" stroke-width="1.1"/>
<text x="558.90" y="317.47" text-anchor="end" font-size="6.5" font-weight="bold" fill="#000">30000</text>
<line x1="559.20" y1="266.70" x2="562.80" y2="266.70" stroke="#000" stroke-width="1.1"/>
<text x="558.90" y="269.50" text-anchor="end" font-size="6.5" font-weight="bold" fill="#000">40000</text>
<line x1="562.80" y1="415.50" x2="562.80" y2="418.70" stroke="#000" stroke-width="1.2"/>
<line x1="574.01" y1="415.50" x2="574.01" y2="418.10" stroke="#000" stroke-width="1.2"/>
<line x1="580.56" y1="415.50" x2="580.56" y2="418.10" stroke="#000" stroke-width="1.2"/>
<line x1="585.22" y1="415.50" x2="585.22" y2="418.10" stroke="#000" stroke-width="1.2"/>
<line x1="588.82" y1="415.50" x2="588.82" y2="418.10" stroke="#000" stroke-width="1.2"/>
<line x1="591.77" y1="415.50" x2="591.77" y2="418.10" stroke="#000" stroke-width="1.2"/>
<line x1="594.27" y1="415.50" x2="594.27" y2="418.10" stroke="#000" stroke-width="1.2"/>
<line x1="596.43" y1="415.50" x2="596.43" y2="418.10" stroke="#000" stroke-width="1.2"/>
<line x1="598.33" y1="415.50" x2="598.33" y2="418.10" stroke="#000" stroke-width="1.2"/>
<line x1="600.03" y1="415.50" x2="600.03" y2="418.70" stroke="#000" stroke-width="1.2"/>
<line x1="611.24" y1="415.50" x2="611.24" y2="418.10" stroke="#000" stroke-width="1.2"/>
<line x1="617.80" y1="415.50" x2="617.80" y2="418.10" stroke="#000" stroke-width="1.2"/>
<line x1="622.45" y1="415.50" x2="622.45" y2="418.10" stroke="#000" stroke-width="1.2"/>
<line x1="626.06" y1="415.50" x2="626.06" y2="418.10" stroke="#000" stroke-width="1.2"/>
<line x1="629.01" y1="415.50" x2="629.01" y2="418.10" stroke="#000" stroke-width="1.2"/>
<line x1="631.50" y1="415.50" x2="631.50" y2="418.10" stroke="#000" stroke-width="1.2"/>
<line x1="633.66" y1="415.50" x2="633.66" y2="418.10" stroke="#000" stroke-width="1.2"/>
<line x1="635.56" y1="415.50" x2="635.56" y2="418.10" stroke="#000" stroke-width="1.2"/>
<line x1="637.27" y1="415.50" x2="637.27" y2="418.70" stroke="#000" stroke-width="1.2"/>
<line x1="648.48" y1="415.50" x2="648.48" y2="418.10" stroke="#000" stroke-width="1.2"/>
<line x1="655.03" y1="415.50" x2="655.03" y2="418.10" stroke="#000" stroke-width="1.2"/>
<line x1="659.68" y1="415.50" x2="659.68" y2="418.10" stroke="#000" stroke-width="1.2"/>
<line x1="663.29" y1="415.50" x2="663.29" y2="418.10" stroke="#000" stroke-width="1.2"/>
<line x1="666.24" y1="415.50" x2="666.24" y2="418.10" stroke="#000" stroke-width="1.2"/>
<line x1="668.73" y1="415.50" x2="668.73" y2="418.10" stroke="#000" stroke-width="1.2"/>
<line x1="670.89" y1="415.50" x2="670.89" y2="418.10" stroke="#000" stroke-width="1.2"/>
<line x1="672.80" y1="415.50" x2="672.80" y2="418.10" stroke="#000" stroke-width="1.2"/>
<line x1="674.50" y1="415.50" x2="674.50" y2="418.70" stroke="#000" stroke-width="1.2"/>
<text x="562.80" y="425.60" text-anchor="middle" font-size="6.5" font-weight="bold" fill="#000">0.01</text>
<text x="600.03" y="425.60" text-anchor="middle" font-size="6.5" font-weight="bold" fill="#000">0.1</text>
<text x="637.27" y="425.60" text-anchor="middle" font-size="6.5" font-weight="bold" fill="#000">1</text>
<text x="674.50" y="425.60" text-anchor="middle" font-size="6.5" font-weight="bold" fill="#000">10</text>
<text x="618.65" y="436.80" text-anchor="middle" font-size="7.2" font-weight="bold" fill="#000">mimic (nM)</text>
<text x="619.15" y="256.00" text-anchor="middle" font-size="8.4" font-weight="bold" fill="#000">PC-3</text>
<text transform="translate(535.60,341.10) rotate(-90)" text-anchor="middle" font-size="7.4" font-weight="bold" fill="#000">Growth (RFUs)</text>
<line x1="65.30" y1="473.40" x2="65.30" y2="623.80" stroke="#000" stroke-width="1.3"/>
<line x1="64.70" y1="623.20" x2="178.00" y2="623.20" stroke="#000" stroke-width="1.3"/>
<line x1="61.70" y1="616.20" x2="65.30" y2="616.20" stroke="#000" stroke-width="1.1"/>
<text x="61.40" y="619.00" text-anchor="end" font-size="6.5" font-weight="bold" fill="#000">10000</text>
<line x1="61.70" y1="580.65" x2="65.30" y2="580.65" stroke="#000" stroke-width="1.1"/>
<text x="61.40" y="583.45" text-anchor="end" font-size="6.5" font-weight="bold" fill="#000">20000</text>
<line x1="61.70" y1="545.10" x2="65.30" y2="545.10" stroke="#000" stroke-width="1.1"/>
<text x="61.40" y="547.90" text-anchor="end" font-size="6.5" font-weight="bold" fill="#000">30000</text>
<line x1="61.70" y1="509.55" x2="65.30" y2="509.55" stroke="#000" stroke-width="1.1"/>
<text x="61.40" y="512.35" text-anchor="end" font-size="6.5" font-weight="bold" fill="#000">40000</text>
<line x1="61.70" y1="474.00" x2="65.30" y2="474.00" stroke="#000" stroke-width="1.1"/>
<text x="61.40" y="476.80" text-anchor="end" font-size="6.5" font-weight="bold" fill="#000">50000</text>
<line x1="65.30" y1="623.20" x2="65.30" y2="626.40" stroke="#000" stroke-width="1.2"/>
<line x1="76.55" y1="623.20" x2="76.55" y2="625.80" stroke="#000" stroke-width="1.2"/>
<line x1="83.13" y1="623.20" x2="83.13" y2="625.80" stroke="#000" stroke-width="1.2"/>
<line x1="87.80" y1="623.20" x2="87.80" y2="625.80" stroke="#000" stroke-width="1.2"/>
<line x1="91.42" y1="623.20" x2="91.42" y2="625.80" stroke="#000" stroke-width="1.2"/>
<line x1="94.38" y1="623.20" x2="94.38" y2="625.80" stroke="#000" stroke-width="1.2"/>
<line x1="96.88" y1="623.20" x2="96.88" y2="625.80" stroke="#000" stroke-width="1.2"/>
<line x1="99.05" y1="623.20" x2="99.05" y2="625.80" stroke="#000" stroke-width="1.2"/>
<line x1="100.96" y1="623.20" x2="100.96" y2="625.80" stroke="#000" stroke-width="1.2"/>
<line x1="102.67" y1="623.20" x2="102.67" y2="626.40" stroke="#000" stroke-width="1.2"/>
<line x1="113.92" y1="623.20" x2="113.92" y2="625.80" stroke="#000" stroke-width="1.2"/>
<line x1="120.50" y1="623.20" x2="120.50" y2="625.80" stroke="#000" stroke-width="1.2"/>
<line x1="125.16" y1="623.20" x2="125.16" y2="625.80" stroke="#000" stroke-width="1.2"/>
<line x1="128.78" y1="623.20" x2="128.78" y2="625.80" stroke="#000" stroke-width="1.2"/>
<line x1="131.74" y1="623.20" x2="131.74" y2="625.80" stroke="#000" stroke-width="1.2"/>
<line x1="134.25" y1="623.20" x2="134.25" y2="625.80" stroke="#000" stroke-width="1.2"/>
<line x1="136.41" y1="623.20" x2="136.41" y2="625.80" stroke="#000" stroke-width="1.2"/>
<line x1="138.32" y1="623.20" x2="138.32" y2="625.80" stroke="#000" stroke-width="1.2"/>
<line x1="140.03" y1="623.20" x2="140.03" y2="626.40" stroke="#000" stroke-width="1.2"/>
<line x1="151.28" y1="623.20" x2="151.28" y2="625.80" stroke="#000" stroke-width="1.2"/>
<line x1="157.86" y1="623.20" x2="157.86" y2="625.80" stroke="#000" stroke-width="1.2"/>
<line x1="162.53" y1="623.20" x2="162.53" y2="625.80" stroke="#000" stroke-width="1.2"/>
<line x1="166.15" y1="623.20" x2="166.15" y2="625.80" stroke="#000" stroke-width="1.2"/>
<line x1="169.11" y1="623.20" x2="169.11" y2="625.80" stroke="#000" stroke-width="1.2"/>
<line x1="171.61" y1="623.20" x2="171.61" y2="625.80" stroke="#000" stroke-width="1.2"/>
<line x1="173.78" y1="623.20" x2="173.78" y2="625.80" stroke="#000" stroke-width="1.2"/>
<line x1="175.69" y1="623.20" x2="175.69" y2="625.80" stroke="#000" stroke-width="1.2"/>
<line x1="177.40" y1="623.20" x2="177.40" y2="626.40" stroke="#000" stroke-width="1.2"/>
<text x="65.30" y="633.30" text-anchor="middle" font-size="6.5" font-weight="bold" fill="#000">0.01</text>
<text x="102.67" y="633.30" text-anchor="middle" font-size="6.5" font-weight="bold" fill="#000">0.1</text>
<text x="140.03" y="633.30" text-anchor="middle" font-size="6.5" font-weight="bold" fill="#000">1</text>
<text x="177.40" y="633.30" text-anchor="middle" font-size="6.5" font-weight="bold" fill="#000">10</text>
<text x="121.35" y="644.50" text-anchor="middle" font-size="7.2" font-weight="bold" fill="#000">mimic (nM)</text>
<text x="121.85" y="463.70" text-anchor="middle" font-size="8.4" font-weight="bold" fill="#000">MCF-7</text>
<text transform="translate(38.10,548.60) rotate(-90)" text-anchor="middle" font-size="7.4" font-weight="bold" fill="#000">Growth (RFUs)</text>
<line x1="230.20" y1="473.10" x2="230.20" y2="623.50" stroke="#000" stroke-width="1.3"/>
<line x1="229.60" y1="622.90" x2="343.10" y2="622.90" stroke="#000" stroke-width="1.3"/>
<line x1="226.60" y1="616.00" x2="230.20" y2="616.00" stroke="#000" stroke-width="1.1"/>
<text x="226.30" y="618.80" text-anchor="end" font-size="6.5" font-weight="bold" fill="#000">10000</text>
<line x1="226.60" y1="580.42" x2="230.20" y2="580.42" stroke="#000" stroke-width="1.1"/>
<text x="226.30" y="583.22" text-anchor="end" font-size="6.5" font-weight="bold" fill="#000">20000</text>
<line x1="226.60" y1="544.85" x2="230.20" y2="544.85" stroke="#000" stroke-width="1.1"/>
<text x="226.30" y="547.65" text-anchor="end" font-size="6.5" font-weight="bold" fill="#000">30000</text>
<line x1="226.60" y1="509.27" x2="230.20" y2="509.27" stroke="#000" stroke-width="1.1"/>
<text x="226.30" y="512.07" text-anchor="end" font-size="6.5" font-weight="bold" fill="#000">40000</text>
<line x1="226.60" y1="473.70" x2="230.20" y2="473.70" stroke="#000" stroke-width="1.1"/>
<text x="226.30" y="476.50" text-anchor="end" font-size="6.5" font-weight="bold" fill="#000">50000</text>
<line x1="230.20" y1="622.90" x2="230.20" y2="626.10" stroke="#000" stroke-width="1.2"/>
<line x1="241.47" y1="622.90" x2="241.47" y2="625.50" stroke="#000" stroke-width="1.2"/>
<line x1="248.06" y1="622.90" x2="248.06" y2="625.50" stroke="#000" stroke-width="1.2"/>
<line x1="252.74" y1="622.90" x2="252.74" y2="625.50" stroke="#000" stroke-width="1.2"/>
<line x1="256.36" y1="622.90" x2="256.36" y2="625.50" stroke="#000" stroke-width="1.2"/>
<line x1="259.33" y1="622.90" x2="259.33" y2="625.50" stroke="#000" stroke-width="1.2"/>
<line x1="261.83" y1="622.90" x2="261.83" y2="625.50" stroke="#000" stroke-width="1.2"/>
<line x1="264.01" y1="622.90" x2="264.01" y2="625.50" stroke="#000" stroke-width="1.2"/>
<line x1="265.92" y1="622.90" x2="265.92" y2="625.50" stroke="#000" stroke-width="1.2"/>
<line x1="267.63" y1="622.90" x2="267.63" y2="626.10" stroke="#000" stroke-width="1.2"/>
<line x1="278.90" y1="622.90" x2="278.90" y2="625.50" stroke="#000" stroke-width="1.2"/>
<line x1="285.49" y1="622.90" x2="285.49" y2="625.50" stroke="#000" stroke-width="1.2"/>
<line x1="290.17" y1="622.90" x2="290.17" y2="625.50" stroke="#000" stroke-width="1.2"/>
<line x1="293.80" y1="622.90" x2="293.80" y2="625.50" stroke="#000" stroke-width="1.2"/>
<line x1="296.76" y1="622.90" x2="296.76" y2="625.50" stroke="#000" stroke-width="1.2"/>
<line x1="299.27" y1="622.90" x2="299.27" y2="625.50" stroke="#000" stroke-width="1.2"/>
<line x1="301.44" y1="622.90" x2="301.44" y2="625.50" stroke="#000" stroke-width="1.2"/>
<line x1="303.35" y1="622.90" x2="303.35" y2="625.50" stroke="#000" stroke-width="1.2"/>
<line x1="305.07" y1="622.90" x2="305.07" y2="626.10" stroke="#000" stroke-width="1.2"/>
<line x1="316.34" y1="622.90" x2="316.34" y2="625.50" stroke="#000" stroke-width="1.2"/>
<line x1="322.93" y1="622.90" x2="322.93" y2="625.50" stroke="#000" stroke-width="1.2"/>
<line x1="327.60" y1="622.90" x2="327.60" y2="625.50" stroke="#000" stroke-width="1.2"/>
<line x1="331.23" y1="622.90" x2="331.23" y2="625.50" stroke="#000" stroke-width="1.2"/>
<line x1="334.20" y1="622.90" x2="334.20" y2="625.50" stroke="#000" stroke-width="1.2"/>
<line x1="336.70" y1="622.90" x2="336.70" y2="625.50" stroke="#000" stroke-width="1.2"/>
<line x1="338.87" y1="622.90" x2="338.87" y2="625.50" stroke="#000" stroke-width="1.2"/>
<line x1="340.79" y1="622.90" x2="340.79" y2="625.50" stroke="#000" stroke-width="1.2"/>
<line x1="342.50" y1="622.90" x2="342.50" y2="626.10" stroke="#000" stroke-width="1.2"/>
<text x="230.20" y="633.00" text-anchor="middle" font-size="6.5" font-weight="bold" fill="#000">0.01</text>
<text x="267.63" y="633.00" text-anchor="middle" font-size="6.5" font-weight="bold" fill="#000">0.1</text>
<text x="305.07" y="633.00" text-anchor="middle" font-size="6.5" font-weight="bold" fill="#000">1</text>
<text x="342.50" y="633.00" text-anchor="middle" font-size="6.5" font-weight="bold" fill="#000">10</text>
<text x="286.35" y="644.20" text-anchor="middle" font-size="7.2" font-weight="bold" fill="#000">mimic (nM)</text>
<text x="286.85" y="463.40" text-anchor="middle" font-size="8.4" font-weight="bold" fill="#000">MDA-MB-231</text>
<text transform="translate(203.00,548.30) rotate(-90)" text-anchor="middle" font-size="7.4" font-weight="bold" fill="#000">Growth (RFUs)</text>
<line x1="396.20" y1="473.10" x2="396.20" y2="623.50" stroke="#000" stroke-width="1.3"/>
<line x1="395.60" y1="622.90" x2="509.10" y2="622.90" stroke="#000" stroke-width="1.3"/>
<line x1="392.60" y1="619.10" x2="396.20" y2="619.10" stroke="#000" stroke-width="1.1"/>
<text x="392.30" y="621.90" text-anchor="end" font-size="6.5" font-weight="bold" fill="#000">20000</text>
<line x1="392.60" y1="546.40" x2="396.20" y2="546.40" stroke="#000" stroke-width="1.1"/>
<text x="392.30" y="549.20" text-anchor="end" font-size="6.5" font-weight="bold" fill="#000">40000</text>
<line x1="392.60" y1="473.70" x2="396.20" y2="473.70" stroke="#000" stroke-width="1.1"/>
<text x="392.30" y="476.50" text-anchor="end" font-size="6.5" font-weight="bold" fill="#000">60000</text>
<line x1="396.20" y1="622.90" x2="396.20" y2="626.10" stroke="#000" stroke-width="1.2"/>
<line x1="407.47" y1="622.90" x2="407.47" y2="625.50" stroke="#000" stroke-width="1.2"/>
<line x1="414.06" y1="622.90" x2="414.06" y2="625.50" stroke="#000" stroke-width="1.2"/>
<line x1="418.74" y1="622.90" x2="418.74" y2="625.50" stroke="#000" stroke-width="1.2"/>
<line x1="422.36" y1="622.90" x2="422.36" y2="625.50" stroke="#000" stroke-width="1.2"/>
<line x1="425.33" y1="622.90" x2="425.33" y2="625.50" stroke="#000" stroke-width="1.2"/>
<line x1="427.83" y1="622.90" x2="427.83" y2="625.50" stroke="#000" stroke-width="1.2"/>
<line x1="430.01" y1="622.90" x2="430.01" y2="625.50" stroke="#000" stroke-width="1.2"/>
<line x1="431.92" y1="622.90" x2="431.92" y2="625.50" stroke="#000" stroke-width="1.2"/>
<line x1="433.63" y1="622.90" x2="433.63" y2="626.10" stroke="#000" stroke-width="1.2"/>
<line x1="444.90" y1="622.90" x2="444.90" y2="625.50" stroke="#000" stroke-width="1.2"/>
<line x1="451.49" y1="622.90" x2="451.49" y2="625.50" stroke="#000" stroke-width="1.2"/>
<line x1="456.17" y1="622.90" x2="456.17" y2="625.50" stroke="#000" stroke-width="1.2"/>
<line x1="459.80" y1="622.90" x2="459.80" y2="625.50" stroke="#000" stroke-width="1.2"/>
<line x1="462.76" y1="622.90" x2="462.76" y2="625.50" stroke="#000" stroke-width="1.2"/>
<line x1="465.27" y1="622.90" x2="465.27" y2="625.50" stroke="#000" stroke-width="1.2"/>
<line x1="467.44" y1="622.90" x2="467.44" y2="625.50" stroke="#000" stroke-width="1.2"/>
<line x1="469.35" y1="622.90" x2="469.35" y2="625.50" stroke="#000" stroke-width="1.2"/>
<line x1="471.07" y1="622.90" x2="471.07" y2="626.10" stroke="#000" stroke-width="1.2"/>
<line x1="482.34" y1="622.90" x2="482.34" y2="625.50" stroke="#000" stroke-width="1.2"/>
<line x1="488.93" y1="622.90" x2="488.93" y2="625.50" stroke="#000" stroke-width="1.2"/>
<line x1="493.60" y1="622.90" x2="493.60" y2="625.50" stroke="#000" stroke-width="1.2"/>
<line x1="497.23" y1="622.90" x2="497.23" y2="625.50" stroke="#000" stroke-width="1.2"/>
<line x1="500.20" y1="622.90" x2="500.20" y2="625.50" stroke="#000" stroke-width="1.2"/>
<line x1="502.70" y1="622.90" x2="502.70" y2="625.50" stroke="#000" stroke-width="1.2"/>
<line x1="504.87" y1="622.90" x2="504.87" y2="625.50" stroke="#000" stroke-width="1.2"/>
<line x1="506.79" y1="622.90" x2="506.79" y2="625.50" stroke="#000" stroke-width="1.2"/>
<line x1="508.50" y1="622.90" x2="508.50" y2="626.10" stroke="#000" stroke-width="1.2"/>
<text x="396.20" y="633.00" text-anchor="middle" font-size="6.5" font-weight="bold" fill="#000">0.01</text>
<text x="433.63" y="633.00" text-anchor="middle" font-size="6.5" font-weight="bold" fill="#000">0.1</text>
<text x="471.07" y="633.00" text-anchor="middle" font-size="6.5" font-weight="bold" fill="#000">1</text>
<text x="508.50" y="633.00" text-anchor="middle" font-size="6.5" font-weight="bold" fill="#000">10</text>
<text x="452.35" y="644.20" text-anchor="middle" font-size="7.2" font-weight="bold" fill="#000">mimic (nM)</text>
<text x="452.85" y="463.40" text-anchor="middle" font-size="8.4" font-weight="bold" fill="#000">HCT-116</text>
<text transform="translate(369.00,548.30) rotate(-90)" text-anchor="middle" font-size="7.4" font-weight="bold" fill="#000">Growth (RFUs)</text>
<polyline points="87.53,296.10 98.79,302.00 110.05,296.70 121.31,308.60 132.57,314.00 143.82,320.60 155.08,358.10 166.34,366.80 177.60,373.70" fill="none" stroke="#000" stroke-width="0.85"/>
<line x1="87.53" y1="290.90" x2="87.53" y2="301.30" stroke="#000" stroke-width="0.9"/><line x1="84.33" y1="290.90" x2="90.73" y2="290.90" stroke="#000" stroke-width="1"/><line x1="84.33" y1="301.30" x2="90.73" y2="301.30" stroke="#000" stroke-width="1"/>
<line x1="98.79" y1="296.40" x2="98.79" y2="307.60" stroke="#000" stroke-width="0.9"/><line x1="95.59" y1="296.40" x2="101.99" y2="296.40" stroke="#000" stroke-width="1"/><line x1="95.59" y1="307.60" x2="101.99" y2="307.60" stroke="#000" stroke-width="1"/>
<line x1="110.05" y1="292.10" x2="110.05" y2="301.40" stroke="#000" stroke-width="0.9"/><line x1="106.85" y1="292.10" x2="113.25" y2="292.10" stroke="#000" stroke-width="1"/><line x1="106.85" y1="301.40" x2="113.25" y2="301.40" stroke="#000" stroke-width="1"/>
<line x1="155.08" y1="350.40" x2="155.08" y2="365.50" stroke="#000" stroke-width="0.9"/><line x1="151.88" y1="350.40" x2="158.28" y2="350.40" stroke="#000" stroke-width="1"/><line x1="151.88" y1="365.50" x2="158.28" y2="365.50" stroke="#000" stroke-width="1"/>
<line x1="166.34" y1="361.20" x2="166.34" y2="372.20" stroke="#000" stroke-width="0.9"/><line x1="163.14" y1="361.20" x2="169.54" y2="361.20" stroke="#000" stroke-width="1"/><line x1="163.14" y1="372.20" x2="169.54" y2="372.20" stroke="#000" stroke-width="1"/>
<path d="M87.53 292.80L90.83 296.10L87.53 299.40L84.23 296.10Z" fill="#fff" stroke="#000" stroke-width="1.15"/>
<path d="M98.79 298.70L102.09 302.00L98.79 305.30L95.49 302.00Z" fill="#fff" stroke="#000" stroke-width="1.15"/>
<path d="M110.05 293.40L113.35 296.70L110.05 300.00L106.75 296.70Z" fill="#fff" stroke="#000" stroke-width="1.15"/>
<path d="M121.31 305.30L124.61 308.60L121.31 311.90L118.01 308.60Z" fill="#fff" stroke="#000" stroke-width="1.15"/>
<path d="M132.57 310.70L135.87 314.00L132.57 317.30L129.27 314.00Z" fill="#fff" stroke="#000" stroke-width="1.15"/>
<path d="M143.82 317.30L147.12 320.60L143.82 323.90L140.52 320.60Z" fill="#fff" stroke="#000" stroke-width="1.15"/>
<path d="M155.08 354.80L158.38 358.10L155.08 361.40L151.78 358.10Z" fill="#fff" stroke="#000" stroke-width="1.15"/>
<path d="M166.34 363.50L169.64 366.80L166.34 370.10L163.04 366.80Z" fill="#fff" stroke="#000" stroke-width="1.15"/>
<path d="M177.60 370.40L180.90 373.70L177.60 377.00L174.30 373.70Z" fill="#fff" stroke="#000" stroke-width="1.15"/>
<polyline points="87.53,306.60 98.79,314.20 110.05,330.20 121.31,360.20 132.57,383.30 143.82,391.80 155.08,394.90 166.34,394.10 177.60,392.60" fill="none" stroke="#000" stroke-width="0.85"/>
<line x1="87.53" y1="303.00" x2="87.53" y2="310.00" stroke="#000" stroke-width="0.9"/><line x1="84.33" y1="303.00" x2="90.73" y2="303.00" stroke="#000" stroke-width="1"/><line x1="84.33" y1="310.00" x2="90.73" y2="310.00" stroke="#000" stroke-width="1"/>
<line x1="98.79" y1="311.00" x2="98.79" y2="317.00" stroke="#000" stroke-width="0.9"/><line x1="95.59" y1="311.00" x2="101.99" y2="311.00" stroke="#000" stroke-width="1"/><line x1="95.59" y1="317.00" x2="101.99" y2="317.00" stroke="#000" stroke-width="1"/>
<line x1="110.05" y1="325.90" x2="110.05" y2="335.60" stroke="#000" stroke-width="0.9"/><line x1="106.85" y1="325.90" x2="113.25" y2="325.90" stroke="#000" stroke-width="1"/><line x1="106.85" y1="335.60" x2="113.25" y2="335.60" stroke="#000" stroke-width="1"/>
<line x1="121.31" y1="357.00" x2="121.31" y2="363.50" stroke="#000" stroke-width="0.9"/><line x1="118.11" y1="357.00" x2="124.51" y2="357.00" stroke="#000" stroke-width="1"/><line x1="118.11" y1="363.50" x2="124.51" y2="363.50" stroke="#000" stroke-width="1"/>
<rect x="84.63" y="303.70" width="5.80" height="5.80" fill="#000"/>
<rect x="95.89" y="311.30" width="5.80" height="5.80" fill="#000"/>
<rect x="107.15" y="327.30" width="5.80" height="5.80" fill="#000"/>
<rect x="118.41" y="357.30" width="5.80" height="5.80" fill="#000"/>
<rect x="129.67" y="380.40" width="5.80" height="5.80" fill="#000"/>
<rect x="140.92" y="388.90" width="5.80" height="5.80" fill="#000"/>
<rect x="152.18" y="392.00" width="5.80" height="5.80" fill="#000"/>
<rect x="163.44" y="391.20" width="5.80" height="5.80" fill="#000"/>
<rect x="174.70" y="389.70" width="5.80" height="5.80" fill="#000"/>
<polyline points="87.53,301.80 98.79,308.80 110.05,320.80 121.31,356.00 132.57,375.30 143.82,379.80 155.08,384.40 166.34,386.40 177.60,387.60" fill="none" stroke="#000" stroke-width="0.85"/>
<line x1="87.53" y1="299.50" x2="87.53" y2="304.00" stroke="#000" stroke-width="0.9"/><line x1="84.33" y1="299.50" x2="90.73" y2="299.50" stroke="#000" stroke-width="1"/><line x1="84.33" y1="304.00" x2="90.73" y2="304.00" stroke="#000" stroke-width="1"/>
<line x1="98.79" y1="306.50" x2="98.79" y2="311.00" stroke="#000" stroke-width="0.9"/><line x1="95.59" y1="306.50" x2="101.99" y2="306.50" stroke="#000" stroke-width="1"/><line x1="95.59" y1="311.00" x2="101.99" y2="311.00" stroke="#000" stroke-width="1"/>
<line x1="121.31" y1="353.50" x2="121.31" y2="358.50" stroke="#000" stroke-width="0.9"/><line x1="118.11" y1="353.50" x2="124.51" y2="353.50" stroke="#000" stroke-width="1"/><line x1="118.11" y1="358.50" x2="124.51" y2="358.50" stroke="#000" stroke-width="1"/>
<path d="M84.43 298.90L90.63 298.90L87.53 304.70Z" fill="#000"/>
<path d="M95.69 305.90L101.89 305.90L98.79 311.70Z" fill="#000"/>
<path d="M106.95 317.90L113.15 317.90L110.05 323.70Z" fill="#000"/>
<path d="M118.21 353.10L124.41 353.10L121.31 358.90Z" fill="#000"/>
<path d="M129.47 372.40L135.67 372.40L132.57 378.20Z" fill="#000"/>
<path d="M140.72 376.90L146.92 376.90L143.82 382.70Z" fill="#000"/>
<path d="M151.98 381.50L158.18 381.50L155.08 387.30Z" fill="#000"/>
<path d="M163.24 383.50L169.44 383.50L166.34 389.30Z" fill="#000"/>
<path d="M174.50 384.70L180.70 384.70L177.60 390.50Z" fill="#000"/>
<polyline points="252.39,303.70 263.63,297.60 274.87,306.60 286.11,334.00 297.35,363.50 308.58,386.90 319.82,393.10 331.06,397.00 342.30,402.40" fill="none" stroke="#000" stroke-width="0.85"/>
<line x1="252.39" y1="299.50" x2="252.39" y2="307.60" stroke="#000" stroke-width="0.9"/><line x1="249.19" y1="299.50" x2="255.59" y2="299.50" stroke="#000" stroke-width="1"/><line x1="249.19" y1="307.60" x2="255.59" y2="307.60" stroke="#000" stroke-width="1"/>
<line x1="263.63" y1="289.70" x2="263.63" y2="305.20" stroke="#000" stroke-width="0.9"/><line x1="260.43" y1="289.70" x2="266.83" y2="289.70" stroke="#000" stroke-width="1"/><line x1="260.43" y1="305.20" x2="266.83" y2="305.20" stroke="#000" stroke-width="1"/>
<line x1="274.87" y1="299.80" x2="274.87" y2="313.20" stroke="#000" stroke-width="0.9"/><line x1="271.67" y1="299.80" x2="278.07" y2="299.80" stroke="#000" stroke-width="1"/><line x1="271.67" y1="313.20" x2="278.07" y2="313.20" stroke="#000" stroke-width="1"/>
<line x1="286.11" y1="325.60" x2="286.11" y2="342.30" stroke="#000" stroke-width="0.9"/><line x1="282.91" y1="325.60" x2="289.31" y2="325.60" stroke="#000" stroke-width="1"/><line x1="282.91" y1="342.30" x2="289.31" y2="342.30" stroke="#000" stroke-width="1"/>
<line x1="297.35" y1="360.00" x2="297.35" y2="367.30" stroke="#000" stroke-width="0.9"/><line x1="294.15" y1="360.00" x2="300.55" y2="360.00" stroke="#000" stroke-width="1"/><line x1="294.15" y1="367.30" x2="300.55" y2="367.30" stroke="#000" stroke-width="1"/>
<line x1="342.30" y1="399.00" x2="342.30" y2="405.50" stroke="#000" stroke-width="0.9"/><line x1="339.10" y1="399.00" x2="345.50" y2="399.00" stroke="#000" stroke-width="1"/><line x1="339.10" y1="405.50" x2="345.50" y2="405.50" stroke="#000" stroke-width="1"/>
<path d="M252.39 300.40L255.69 303.70L252.39 307.00L249.09 303.70Z" fill="#fff" stroke="#000" stroke-width="1.15"/>
<path d="M263.63 294.30L266.93 297.60L263.63 300.90L260.33 297.60Z" fill="#fff" stroke="#000" stroke-width="1.15"/>
<path d="M274.87 303.30L278.17 306.60L274.87 309.90L271.57 306.60Z" fill="#fff" stroke="#000" stroke-width="1.15"/>
<path d="M286.11 330.70L289.41 334.00L286.11 337.30L282.81 334.00Z" fill="#fff" stroke="#000" stroke-width="1.15"/>
<path d="M297.35 360.20L300.65 363.50L297.35 366.80L294.05 363.50Z" fill="#fff" stroke="#000" stroke-width="1.15"/>
<path d="M308.58 383.60L311.88 386.90L308.58 390.20L305.28 386.90Z" fill="#fff" stroke="#000" stroke-width="1.15"/>
<path d="M319.82 389.80L323.12 393.10L319.82 396.40L316.52 393.10Z" fill="#fff" stroke="#000" stroke-width="1.15"/>
<path d="M331.06 393.70L334.36 397.00L331.06 400.30L327.76 397.00Z" fill="#fff" stroke="#000" stroke-width="1.15"/>
<path d="M342.30 399.10L345.60 402.40L342.30 405.70L339.00 402.40Z" fill="#fff" stroke="#000" stroke-width="1.15"/>
<polyline points="252.39,319.40 263.63,328.80 274.87,340.90 286.11,368.20 297.35,384.80 308.58,395.90 319.82,398.20 331.06,398.20 342.30,395.90" fill="none" stroke="#000" stroke-width="0.85"/>
<line x1="252.39" y1="311.50" x2="252.39" y2="327.00" stroke="#000" stroke-width="0.9"/><line x1="249.19" y1="311.50" x2="255.59" y2="311.50" stroke="#000" stroke-width="1"/><line x1="249.19" y1="327.00" x2="255.59" y2="327.00" stroke="#000" stroke-width="1"/>
<line x1="263.63" y1="321.90" x2="263.63" y2="338.60" stroke="#000" stroke-width="0.9"/><line x1="260.43" y1="321.90" x2="266.83" y2="321.90" stroke="#000" stroke-width="1"/><line x1="260.43" y1="338.60" x2="266.83" y2="338.60" stroke="#000" stroke-width="1"/>
<line x1="274.87" y1="334.40" x2="274.87" y2="347.40" stroke="#000" stroke-width="0.9"/><line x1="271.67" y1="334.40" x2="278.07" y2="334.40" stroke="#000" stroke-width="1"/><line x1="271.67" y1="347.40" x2="278.07" y2="347.40" stroke="#000" stroke-width="1"/>
<line x1="286.11" y1="360.50" x2="286.11" y2="376.10" stroke="#000" stroke-width="0.9"/><line x1="282.91" y1="360.50" x2="289.31" y2="360.50" stroke="#000" stroke-width="1"/><line x1="282.91" y1="376.10" x2="289.31" y2="376.10" stroke="#000" stroke-width="1"/>
<line x1="297.35" y1="379.50" x2="297.35" y2="392.20" stroke="#000" stroke-width="0.9"/><line x1="294.15" y1="379.50" x2="300.55" y2="379.50" stroke="#000" stroke-width="1"/><line x1="294.15" y1="392.20" x2="300.55" y2="392.20" stroke="#000" stroke-width="1"/>
<line x1="342.30" y1="392.00" x2="342.30" y2="400.00" stroke="#000" stroke-width="0.9"/><line x1="339.10" y1="392.00" x2="345.50" y2="392.00" stroke="#000" stroke-width="1"/><line x1="339.10" y1="400.00" x2="345.50" y2="400.00" stroke="#000" stroke-width="1"/>
<rect x="249.49" y="316.50" width="5.80" height="5.80" fill="#000"/>
<rect x="260.73" y="325.90" width="5.80" height="5.80" fill="#000"/>
<rect x="271.97" y="338.00" width="5.80" height="5.80" fill="#000"/>
<rect x="283.21" y="365.30" width="5.80" height="5.80" fill="#000"/>
<rect x="294.45" y="381.90" width="5.80" height="5.80" fill="#000"/>
<rect x="305.68" y="393.00" width="5.80" height="5.80" fill="#000"/>
<rect x="316.92" y="395.30" width="5.80" height="5.80" fill="#000"/>
<rect x="328.16" y="395.30" width="5.80" height="5.80" fill="#000"/>
<rect x="339.40" y="393.00" width="5.80" height="5.80" fill="#000"/>
<polyline points="252.39,328.00 263.63,329.80 274.87,370.80 286.11,384.10 297.35,385.50 308.58,395.00 319.82,397.50 331.06,397.50 342.30,397.00" fill="none" stroke="#000" stroke-width="0.85"/>
<line x1="252.39" y1="323.00" x2="252.39" y2="331.60" stroke="#000" stroke-width="0.9"/><line x1="249.19" y1="323.00" x2="255.59" y2="323.00" stroke="#000" stroke-width="1"/><line x1="249.19" y1="331.60" x2="255.59" y2="331.60" stroke="#000" stroke-width="1"/>
<line x1="274.87" y1="363.40" x2="274.87" y2="379.40" stroke="#000" stroke-width="0.9"/><line x1="271.67" y1="363.40" x2="278.07" y2="363.40" stroke="#000" stroke-width="1"/><line x1="271.67" y1="379.40" x2="278.07" y2="379.40" stroke="#000" stroke-width="1"/>
<line x1="286.11" y1="380.00" x2="286.11" y2="388.00" stroke="#000" stroke-width="0.9"/><line x1="282.91" y1="380.00" x2="289.31" y2="380.00" stroke="#000" stroke-width="1"/><line x1="282.91" y1="388.00" x2="289.31" y2="388.00" stroke="#000" stroke-width="1"/>
<path d="M249.29 325.10L255.49 325.10L252.39 330.90Z" fill="#000"/>
<path d="M260.53 326.90L266.73 326.90L263.63 332.70Z" fill="#000"/>
<path d="M271.77 367.90L277.97 367.90L274.87 373.70Z" fill="#000"/>
<path d="M283.01 381.20L289.21 381.20L286.11 387.00Z" fill="#000"/>
<path d="M294.25 382.60L300.45 382.60L297.35 388.40Z" fill="#000"/>
<path d="M305.48 392.10L311.68 392.10L308.58 397.90Z" fill="#000"/>
<path d="M316.72 394.60L322.92 394.60L319.82 400.40Z" fill="#000"/>
<path d="M327.96 394.60L334.16 394.60L331.06 400.40Z" fill="#000"/>
<path d="M339.20 394.10L345.40 394.10L342.30 399.90Z" fill="#000"/>
<polyline points="417.69,289.50 428.93,307.20 440.17,316.60 451.41,339.30 462.65,357.70 473.88,365.50 485.12,376.50 496.36,384.00 507.60,384.50" fill="none" stroke="#000" stroke-width="0.85"/>
<line x1="417.69" y1="282.00" x2="417.69" y2="293.00" stroke="#000" stroke-width="0.9"/><line x1="414.49" y1="282.00" x2="420.89" y2="282.00" stroke="#000" stroke-width="1"/><line x1="414.49" y1="293.00" x2="420.89" y2="293.00" stroke="#000" stroke-width="1"/>
<line x1="428.93" y1="302.40" x2="428.93" y2="312.00" stroke="#000" stroke-width="0.9"/><line x1="425.73" y1="302.40" x2="432.13" y2="302.40" stroke="#000" stroke-width="1"/><line x1="425.73" y1="312.00" x2="432.13" y2="312.00" stroke="#000" stroke-width="1"/>
<path d="M417.69 286.20L420.99 289.50L417.69 292.80L414.39 289.50Z" fill="#fff" stroke="#000" stroke-width="1.15"/>
<path d="M428.93 303.90L432.23 307.20L428.93 310.50L425.63 307.20Z" fill="#fff" stroke="#000" stroke-width="1.15"/>
<path d="M440.17 313.30L443.47 316.60L440.17 319.90L436.87 316.60Z" fill="#fff" stroke="#000" stroke-width="1.15"/>
<path d="M451.41 336.00L454.71 339.30L451.41 342.60L448.11 339.30Z" fill="#fff" stroke="#000" stroke-width="1.15"/>
<path d="M462.65 354.40L465.95 357.70L462.65 361.00L459.35 357.70Z" fill="#fff" stroke="#000" stroke-width="1.15"/>
<path d="M473.88 362.20L477.18 365.50L473.88 368.80L470.58 365.50Z" fill="#fff" stroke="#000" stroke-width="1.15"/>
<path d="M485.12 373.20L488.42 376.50L485.12 379.80L481.82 376.50Z" fill="#fff" stroke="#000" stroke-width="1.15"/>
<path d="M496.36 380.70L499.66 384.00L496.36 387.30L493.06 384.00Z" fill="#fff" stroke="#000" stroke-width="1.15"/>
<path d="M507.60 381.20L510.90 384.50L507.60 387.80L504.30 384.50Z" fill="#fff" stroke="#000" stroke-width="1.15"/>
<polyline points="417.69,287.00 428.93,314.80 440.17,337.90 451.41,360.90 462.65,367.60 473.88,378.80 485.12,380.00 496.36,385.00 507.60,386.00" fill="none" stroke="#000" stroke-width="0.85"/>
<line x1="417.69" y1="279.80" x2="417.69" y2="297.40" stroke="#000" stroke-width="0.9"/><line x1="414.49" y1="279.80" x2="420.89" y2="279.80" stroke="#000" stroke-width="1"/><line x1="414.49" y1="297.40" x2="420.89" y2="297.40" stroke="#000" stroke-width="1"/>
<line x1="428.93" y1="309.00" x2="428.93" y2="320.50" stroke="#000" stroke-width="0.9"/><line x1="425.73" y1="309.00" x2="432.13" y2="309.00" stroke="#000" stroke-width="1"/><line x1="425.73" y1="320.50" x2="432.13" y2="320.50" stroke="#000" stroke-width="1"/>
<line x1="440.17" y1="327.00" x2="440.17" y2="347.00" stroke="#000" stroke-width="0.9"/><line x1="436.97" y1="327.00" x2="443.37" y2="327.00" stroke="#000" stroke-width="1"/><line x1="436.97" y1="347.00" x2="443.37" y2="347.00" stroke="#000" stroke-width="1"/>
<line x1="451.41" y1="355.50" x2="451.41" y2="366.80" stroke="#000" stroke-width="0.9"/><line x1="448.21" y1="355.50" x2="454.61" y2="355.50" stroke="#000" stroke-width="1"/><line x1="448.21" y1="366.80" x2="454.61" y2="366.80" stroke="#000" stroke-width="1"/>
<line x1="462.65" y1="362.70" x2="462.65" y2="376.50" stroke="#000" stroke-width="0.9"/><line x1="459.45" y1="362.70" x2="465.85" y2="362.70" stroke="#000" stroke-width="1"/><line x1="459.45" y1="376.50" x2="465.85" y2="376.50" stroke="#000" stroke-width="1"/>
<line x1="473.88" y1="373.60" x2="473.88" y2="383.10" stroke="#000" stroke-width="0.9"/><line x1="470.68" y1="373.60" x2="477.08" y2="373.60" stroke="#000" stroke-width="1"/><line x1="470.68" y1="383.10" x2="477.08" y2="383.10" stroke="#000" stroke-width="1"/>
<line x1="485.12" y1="376.00" x2="485.12" y2="383.90" stroke="#000" stroke-width="0.9"/><line x1="481.92" y1="376.00" x2="488.32" y2="376.00" stroke="#000" stroke-width="1"/><line x1="481.92" y1="383.90" x2="488.32" y2="383.90" stroke="#000" stroke-width="1"/>
<line x1="496.36" y1="381.00" x2="496.36" y2="389.00" stroke="#000" stroke-width="0.9"/><line x1="493.16" y1="381.00" x2="499.56" y2="381.00" stroke="#000" stroke-width="1"/><line x1="493.16" y1="389.00" x2="499.56" y2="389.00" stroke="#000" stroke-width="1"/>
<line x1="507.60" y1="382.00" x2="507.60" y2="390.00" stroke="#000" stroke-width="0.9"/><line x1="504.40" y1="382.00" x2="510.80" y2="382.00" stroke="#000" stroke-width="1"/><line x1="504.40" y1="390.00" x2="510.80" y2="390.00" stroke="#000" stroke-width="1"/>
<rect x="414.79" y="284.10" width="5.80" height="5.80" fill="#000"/>
<rect x="426.03" y="311.90" width="5.80" height="5.80" fill="#000"/>
<rect x="437.27" y="335.00" width="5.80" height="5.80" fill="#000"/>
<rect x="448.51" y="358.00" width="5.80" height="5.80" fill="#000"/>
<rect x="459.75" y="364.70" width="5.80" height="5.80" fill="#000"/>
<rect x="470.98" y="375.90" width="5.80" height="5.80" fill="#000"/>
<rect x="482.22" y="377.10" width="5.80" height="5.80" fill="#000"/>
<rect x="493.46" y="382.10" width="5.80" height="5.80" fill="#000"/>
<rect x="504.70" y="383.10" width="5.80" height="5.80" fill="#000"/>
<polyline points="417.69,292.50 428.93,324.30 440.17,352.50 451.41,360.00 462.65,365.00 473.88,366.50 485.12,371.70 496.36,370.30 507.60,372.00" fill="none" stroke="#000" stroke-width="0.85"/>
<line x1="473.88" y1="362.40" x2="473.88" y2="369.50" stroke="#000" stroke-width="0.9"/><line x1="470.68" y1="362.40" x2="477.08" y2="362.40" stroke="#000" stroke-width="1"/><line x1="470.68" y1="369.50" x2="477.08" y2="369.50" stroke="#000" stroke-width="1"/>
<line x1="496.36" y1="362.50" x2="496.36" y2="378.40" stroke="#000" stroke-width="0.9"/><line x1="493.16" y1="362.50" x2="499.56" y2="362.50" stroke="#000" stroke-width="1"/><line x1="493.16" y1="378.40" x2="499.56" y2="378.40" stroke="#000" stroke-width="1"/>
<line x1="507.60" y1="368.70" x2="507.60" y2="376.30" stroke="#000" stroke-width="0.9"/><line x1="504.40" y1="368.70" x2="510.80" y2="368.70" stroke="#000" stroke-width="1"/><line x1="504.40" y1="376.30" x2="510.80" y2="376.30" stroke="#000" stroke-width="1"/>
<path d="M414.59 289.60L420.79 289.60L417.69 295.40Z" fill="#000"/>
<path d="M425.83 321.40L432.03 321.40L428.93 327.20Z" fill="#000"/>
<path d="M437.07 349.60L443.27 349.60L440.17 355.40Z" fill="#000"/>
<path d="M448.31 357.10L454.51 357.10L451.41 362.90Z" fill="#000"/>
<path d="M459.55 362.10L465.75 362.10L462.65 367.90Z" fill="#000"/>
<path d="M470.78 363.60L476.98 363.60L473.88 369.40Z" fill="#000"/>
<path d="M482.02 368.80L488.22 368.80L485.12 374.60Z" fill="#000"/>
<path d="M493.26 367.40L499.46 367.40L496.36 373.20Z" fill="#000"/>
<path d="M504.50 369.10L510.70 369.10L507.60 374.90Z" fill="#000"/>
<polyline points="584.83,294.40 596.04,310.00 607.25,326.40 618.46,344.90 629.67,347.00 640.87,351.90 652.08,357.30 663.29,358.40 674.50,362.00" fill="none" stroke="#000" stroke-width="0.85"/>
<line x1="584.83" y1="290.40" x2="584.83" y2="299.30" stroke="#000" stroke-width="0.9"/><line x1="581.63" y1="290.40" x2="588.03" y2="290.40" stroke="#000" stroke-width="1"/><line x1="581.63" y1="299.30" x2="588.03" y2="299.30" stroke="#000" stroke-width="1"/>
<line x1="640.87" y1="349.00" x2="640.87" y2="355.00" stroke="#000" stroke-width="0.9"/><line x1="637.67" y1="349.00" x2="644.07" y2="349.00" stroke="#000" stroke-width="1"/><line x1="637.67" y1="355.00" x2="644.07" y2="355.00" stroke="#000" stroke-width="1"/>
<line x1="652.08" y1="352.30" x2="652.08" y2="362.00" stroke="#000" stroke-width="0.9"/><line x1="648.88" y1="352.30" x2="655.28" y2="352.30" stroke="#000" stroke-width="1"/><line x1="648.88" y1="362.00" x2="655.28" y2="362.00" stroke="#000" stroke-width="1"/>
<line x1="663.29" y1="354.60" x2="663.29" y2="362.00" stroke="#000" stroke-width="0.9"/><line x1="660.09" y1="354.60" x2="666.49" y2="354.60" stroke="#000" stroke-width="1"/><line x1="660.09" y1="362.00" x2="666.49" y2="362.00" stroke="#000" stroke-width="1"/>
<path d="M584.83 291.10L588.13 294.40L584.83 297.70L581.53 294.40Z" fill="#fff" stroke="#000" stroke-width="1.15"/>
<path d="M596.04 306.70L599.34 310.00L596.04 313.30L592.74 310.00Z" fill="#fff" stroke="#000" stroke-width="1.15"/>
<path d="M607.25 323.10L610.55 326.40L607.25 329.70L603.95 326.40Z" fill="#fff" stroke="#000" stroke-width="1.15"/>
<path d="M618.46 341.60L621.76 344.90L618.46 348.20L615.16 344.90Z" fill="#fff" stroke="#000" stroke-width="1.15"/>
<path d="M629.67 343.70L632.97 347.00L629.67 350.30L626.37 347.00Z" fill="#fff" stroke="#000" stroke-width="1.15"/>
<path d="M640.87 348.60L644.17 351.90L640.87 355.20L637.57 351.90Z" fill="#fff" stroke="#000" stroke-width="1.15"/>
<path d="M652.08 354.00L655.38 357.30L652.08 360.60L648.78 357.30Z" fill="#fff" stroke="#000" stroke-width="1.15"/>
<path d="M663.29 355.10L666.59 358.40L663.29 361.70L659.99 358.40Z" fill="#fff" stroke="#000" stroke-width="1.15"/>
<path d="M674.50 358.70L677.80 362.00L674.50 365.30L671.20 362.00Z" fill="#fff" stroke="#000" stroke-width="1.15"/>
<polyline points="584.83,304.60 596.04,302.70 607.25,321.70 618.46,359.80 629.67,351.40 640.87,356.30 652.08,364.90 663.29,362.20 674.50,370.90" fill="none" stroke="#000" stroke-width="0.85"/>
<line x1="584.83" y1="298.50" x2="584.83" y2="311.40" stroke="#000" stroke-width="0.9"/><line x1="581.63" y1="298.50" x2="588.03" y2="298.50" stroke="#000" stroke-width="1"/><line x1="581.63" y1="311.40" x2="588.03" y2="311.40" stroke="#000" stroke-width="1"/>
<rect x="581.93" y="301.70" width="5.80" height="5.80" fill="#000"/>
<rect x="593.14" y="299.80" width="5.80" height="5.80" fill="#000"/>
<rect x="604.35" y="318.80" width="5.80" height="5.80" fill="#000"/>
<rect x="615.56" y="356.90" width="5.80" height="5.80" fill="#000"/>
<rect x="626.77" y="348.50" width="5.80" height="5.80" fill="#000"/>
<rect x="637.97" y="353.40" width="5.80" height="5.80" fill="#000"/>
<rect x="649.18" y="362.00" width="5.80" height="5.80" fill="#000"/>
<rect x="660.39" y="359.30" width="5.80" height="5.80" fill="#000"/>
<rect x="671.60" y="368.00" width="5.80" height="5.80" fill="#000"/>
<polyline points="584.83,304.00 596.04,311.50 607.25,329.20 618.46,342.70 629.67,354.60 640.87,363.30 652.08,360.50 663.29,365.50 674.50,375.20" fill="none" stroke="#000" stroke-width="0.85"/>
<line x1="618.46" y1="339.70" x2="618.46" y2="346.00" stroke="#000" stroke-width="0.9"/><line x1="615.26" y1="339.70" x2="621.66" y2="339.70" stroke="#000" stroke-width="1"/><line x1="615.26" y1="346.00" x2="621.66" y2="346.00" stroke="#000" stroke-width="1"/>
<line x1="629.67" y1="348.50" x2="629.67" y2="360.60" stroke="#000" stroke-width="0.9"/><line x1="626.47" y1="348.50" x2="632.87" y2="348.50" stroke="#000" stroke-width="1"/><line x1="626.47" y1="360.60" x2="632.87" y2="360.60" stroke="#000" stroke-width="1"/>
<line x1="640.87" y1="357.00" x2="640.87" y2="369.60" stroke="#000" stroke-width="0.9"/><line x1="637.67" y1="357.00" x2="644.07" y2="357.00" stroke="#000" stroke-width="1"/><line x1="637.67" y1="369.60" x2="644.07" y2="369.60" stroke="#000" stroke-width="1"/>
<path d="M581.73 301.10L587.93 301.10L584.83 306.90Z" fill="#000"/>
<path d="M592.94 308.60L599.14 308.60L596.04 314.40Z" fill="#000"/>
<path d="M604.15 326.30L610.35 326.30L607.25 332.10Z" fill="#000"/>
<path d="M615.36 339.80L621.56 339.80L618.46 345.60Z" fill="#000"/>
<path d="M626.57 351.70L632.77 351.70L629.67 357.50Z" fill="#000"/>
<path d="M637.77 360.40L643.97 360.40L640.87 366.20Z" fill="#000"/>
<path d="M648.98 357.60L655.18 357.60L652.08 363.40Z" fill="#000"/>
<path d="M660.19 362.60L666.39 362.60L663.29 368.40Z" fill="#000"/>
<path d="M671.40 372.30L677.60 372.30L674.50 378.10Z" fill="#000"/>
<polyline points="87.41,500.20 98.66,495.00 109.91,487.20 121.16,505.00 132.41,502.00 143.65,528.20 154.90,539.00 166.15,568.30 177.40,591.30" fill="none" stroke="#000" stroke-width="0.85"/>
<line x1="87.41" y1="494.30" x2="87.41" y2="506.90" stroke="#000" stroke-width="0.9"/><line x1="84.21" y1="494.30" x2="90.61" y2="494.30" stroke="#000" stroke-width="1"/><line x1="84.21" y1="506.90" x2="90.61" y2="506.90" stroke="#000" stroke-width="1"/>
<line x1="109.91" y1="479.70" x2="109.91" y2="495.00" stroke="#000" stroke-width="0.9"/><line x1="106.71" y1="479.70" x2="113.11" y2="479.70" stroke="#000" stroke-width="1"/><line x1="106.71" y1="495.00" x2="113.11" y2="495.00" stroke="#000" stroke-width="1"/>
<line x1="143.65" y1="520.30" x2="143.65" y2="536.20" stroke="#000" stroke-width="0.9"/><line x1="140.45" y1="520.30" x2="146.85" y2="520.30" stroke="#000" stroke-width="1"/><line x1="140.45" y1="536.20" x2="146.85" y2="536.20" stroke="#000" stroke-width="1"/>
<line x1="154.90" y1="531.10" x2="154.90" y2="547.30" stroke="#000" stroke-width="0.9"/><line x1="151.70" y1="531.10" x2="158.10" y2="531.10" stroke="#000" stroke-width="1"/><line x1="151.70" y1="547.30" x2="158.10" y2="547.30" stroke="#000" stroke-width="1"/>
<line x1="177.40" y1="586.30" x2="177.40" y2="595.20" stroke="#000" stroke-width="0.9"/><line x1="174.20" y1="586.30" x2="180.60" y2="586.30" stroke="#000" stroke-width="1"/><line x1="174.20" y1="595.20" x2="180.60" y2="595.20" stroke="#000" stroke-width="1"/>
<path d="M87.41 496.90L90.71 500.20L87.41 503.50L84.11 500.20Z" fill="#fff" stroke="#000" stroke-width="1.15"/>
<path d="M98.66 491.70L101.96 495.00L98.66 498.30L95.36 495.00Z" fill="#fff" stroke="#000" stroke-width="1.15"/>
<path d="M109.91 483.90L113.21 487.20L109.91 490.50L106.61 487.20Z" fill="#fff" stroke="#000" stroke-width="1.15"/>
<path d="M121.16 501.70L124.46 505.00L121.16 508.30L117.86 505.00Z" fill="#fff" stroke="#000" stroke-width="1.15"/>
<path d="M132.41 498.70L135.71 502.00L132.41 505.30L129.11 502.00Z" fill="#fff" stroke="#000" stroke-width="1.15"/>
<path d="M143.65 524.90L146.95 528.20L143.65 531.50L140.35 528.20Z" fill="#fff" stroke="#000" stroke-width="1.15"/>
<path d="M154.90 535.70L158.20 539.00L154.90 542.30L151.60 539.00Z" fill="#fff" stroke="#000" stroke-width="1.15"/>
<path d="M166.15 565.00L169.45 568.30L166.15 571.60L162.85 568.30Z" fill="#fff" stroke="#000" stroke-width="1.15"/>
<path d="M177.40 588.00L180.70 591.30L177.40 594.60L174.10 591.30Z" fill="#fff" stroke="#000" stroke-width="1.15"/>
<polyline points="87.41,489.00 98.66,493.80 109.91,503.10 121.16,528.90 132.41,534.00 143.65,571.60 154.90,578.60 166.15,594.40 177.40,577.40" fill="none" stroke="#000" stroke-width="0.85"/>
<line x1="87.41" y1="485.50" x2="87.41" y2="493.00" stroke="#000" stroke-width="0.9"/><line x1="84.21" y1="485.50" x2="90.61" y2="485.50" stroke="#000" stroke-width="1"/><line x1="84.21" y1="493.00" x2="90.61" y2="493.00" stroke="#000" stroke-width="1"/>
<line x1="98.66" y1="485.30" x2="98.66" y2="502.00" stroke="#000" stroke-width="0.9"/><line x1="95.46" y1="485.30" x2="101.86" y2="485.30" stroke="#000" stroke-width="1"/><line x1="95.46" y1="502.00" x2="101.86" y2="502.00" stroke="#000" stroke-width="1"/>
<line x1="121.16" y1="516.70" x2="121.16" y2="539.20" stroke="#000" stroke-width="0.9"/><line x1="117.96" y1="516.70" x2="124.36" y2="516.70" stroke="#000" stroke-width="1"/><line x1="117.96" y1="539.20" x2="124.36" y2="539.20" stroke="#000" stroke-width="1"/>
<line x1="132.41" y1="528.60" x2="132.41" y2="539.80" stroke="#000" stroke-width="0.9"/><line x1="129.21" y1="528.60" x2="135.61" y2="528.60" stroke="#000" stroke-width="1"/><line x1="129.21" y1="539.80" x2="135.61" y2="539.80" stroke="#000" stroke-width="1"/>
<line x1="143.65" y1="563.60" x2="143.65" y2="579.30" stroke="#000" stroke-width="0.9"/><line x1="140.45" y1="563.60" x2="146.85" y2="563.60" stroke="#000" stroke-width="1"/><line x1="140.45" y1="579.30" x2="146.85" y2="579.30" stroke="#000" stroke-width="1"/>
<line x1="154.90" y1="574.30" x2="154.90" y2="582.40" stroke="#000" stroke-width="0.9"/><line x1="151.70" y1="574.30" x2="158.10" y2="574.30" stroke="#000" stroke-width="1"/><line x1="151.70" y1="582.40" x2="158.10" y2="582.40" stroke="#000" stroke-width="1"/>
<line x1="166.15" y1="589.00" x2="166.15" y2="600.20" stroke="#000" stroke-width="0.9"/><line x1="162.95" y1="589.00" x2="169.35" y2="589.00" stroke="#000" stroke-width="1"/><line x1="162.95" y1="600.20" x2="169.35" y2="600.20" stroke="#000" stroke-width="1"/>
<line x1="177.40" y1="568.80" x2="177.40" y2="586.00" stroke="#000" stroke-width="0.9"/><line x1="174.20" y1="568.80" x2="180.60" y2="568.80" stroke="#000" stroke-width="1"/><line x1="174.20" y1="586.00" x2="180.60" y2="586.00" stroke="#000" stroke-width="1"/>
<rect x="84.51" y="486.10" width="5.80" height="5.80" fill="#000"/>
<rect x="95.76" y="490.90" width="5.80" height="5.80" fill="#000"/>
<rect x="107.01" y="500.20" width="5.80" height="5.80" fill="#000"/>
<rect x="118.26" y="526.00" width="5.80" height="5.80" fill="#000"/>
<rect x="129.51" y="531.10" width="5.80" height="5.80" fill="#000"/>
<rect x="140.75" y="568.70" width="5.80" height="5.80" fill="#000"/>
<rect x="152.00" y="575.70" width="5.80" height="5.80" fill="#000"/>
<rect x="163.25" y="591.50" width="5.80" height="5.80" fill="#000"/>
<rect x="174.50" y="574.50" width="5.80" height="5.80" fill="#000"/>
<polyline points="87.41,492.50 98.66,504.10 109.91,507.10 121.16,526.00 132.41,557.60 143.65,560.40 154.90,592.90 166.15,594.00 177.40,582.80" fill="none" stroke="#000" stroke-width="0.85"/>
<line x1="98.66" y1="500.10" x2="98.66" y2="510.20" stroke="#000" stroke-width="0.9"/><line x1="95.46" y1="500.10" x2="101.86" y2="500.10" stroke="#000" stroke-width="1"/><line x1="95.46" y1="510.20" x2="101.86" y2="510.20" stroke="#000" stroke-width="1"/>
<line x1="109.91" y1="503.00" x2="109.91" y2="511.30" stroke="#000" stroke-width="0.9"/><line x1="106.71" y1="503.00" x2="113.11" y2="503.00" stroke="#000" stroke-width="1"/><line x1="106.71" y1="511.30" x2="113.11" y2="511.30" stroke="#000" stroke-width="1"/>
<line x1="132.41" y1="551.10" x2="132.41" y2="565.40" stroke="#000" stroke-width="0.9"/><line x1="129.21" y1="551.10" x2="135.61" y2="551.10" stroke="#000" stroke-width="1"/><line x1="129.21" y1="565.40" x2="135.61" y2="565.40" stroke="#000" stroke-width="1"/>
<line x1="143.65" y1="550.60" x2="143.65" y2="570.00" stroke="#000" stroke-width="0.9"/><line x1="140.45" y1="550.60" x2="146.85" y2="550.60" stroke="#000" stroke-width="1"/><line x1="140.45" y1="570.00" x2="146.85" y2="570.00" stroke="#000" stroke-width="1"/>
<line x1="154.90" y1="587.50" x2="154.90" y2="600.20" stroke="#000" stroke-width="0.9"/><line x1="151.70" y1="587.50" x2="158.10" y2="587.50" stroke="#000" stroke-width="1"/><line x1="151.70" y1="600.20" x2="158.10" y2="600.20" stroke="#000" stroke-width="1"/>
<path d="M84.31 489.60L90.51 489.60L87.41 495.40Z" fill="#000"/>
<path d="M95.56 501.20L101.76 501.20L98.66 507.00Z" fill="#000"/>
<path d="M106.81 504.20L113.01 504.20L109.91 510.00Z" fill="#000"/>
<path d="M118.06 523.10L124.26 523.10L121.16 528.90Z" fill="#000"/>
<path d="M129.31 554.70L135.51 554.70L132.41 560.50Z" fill="#000"/>
<path d="M140.55 557.50L146.75 557.50L143.65 563.30Z" fill="#000"/>
<path d="M151.80 590.00L158.00 590.00L154.90 595.80Z" fill="#000"/>
<path d="M163.05 591.10L169.25 591.10L166.15 596.90Z" fill="#000"/>
<path d="M174.30 579.90L180.50 579.90L177.40 585.70Z" fill="#000"/>
<polyline points="252.35,504.20 263.62,507.00 274.89,519.70 286.16,526.80 297.43,531.90 308.69,542.30 319.96,551.30 331.23,552.30 342.50,564.20" fill="none" stroke="#000" stroke-width="0.85"/>
<line x1="252.35" y1="502.10" x2="252.35" y2="507.50" stroke="#000" stroke-width="0.9"/><line x1="249.15" y1="502.10" x2="255.55" y2="502.10" stroke="#000" stroke-width="1"/><line x1="249.15" y1="507.50" x2="255.55" y2="507.50" stroke="#000" stroke-width="1"/>
<line x1="263.62" y1="502.30" x2="263.62" y2="511.30" stroke="#000" stroke-width="0.9"/><line x1="260.42" y1="502.30" x2="266.82" y2="502.30" stroke="#000" stroke-width="1"/><line x1="260.42" y1="511.30" x2="266.82" y2="511.30" stroke="#000" stroke-width="1"/>
<line x1="297.43" y1="528.50" x2="297.43" y2="535.30" stroke="#000" stroke-width="0.9"/><line x1="294.23" y1="528.50" x2="300.63" y2="528.50" stroke="#000" stroke-width="1"/><line x1="294.23" y1="535.30" x2="300.63" y2="535.30" stroke="#000" stroke-width="1"/>
<line x1="308.69" y1="537.10" x2="308.69" y2="546.90" stroke="#000" stroke-width="0.9"/><line x1="305.49" y1="537.10" x2="311.89" y2="537.10" stroke="#000" stroke-width="1"/><line x1="305.49" y1="546.90" x2="311.89" y2="546.90" stroke="#000" stroke-width="1"/>
<line x1="319.96" y1="546.60" x2="319.96" y2="556.00" stroke="#000" stroke-width="0.9"/><line x1="316.76" y1="546.60" x2="323.16" y2="546.60" stroke="#000" stroke-width="1"/><line x1="316.76" y1="556.00" x2="323.16" y2="556.00" stroke="#000" stroke-width="1"/>
<path d="M252.35 500.90L255.65 504.20L252.35 507.50L249.05 504.20Z" fill="#fff" stroke="#000" stroke-width="1.15"/>
<path d="M263.62 503.70L266.92 507.00L263.62 510.30L260.32 507.00Z" fill="#fff" stroke="#000" stroke-width="1.15"/>
<path d="M274.89 516.40L278.19 519.70L274.89 523.00L271.59 519.70Z" fill="#fff" stroke="#000" stroke-width="1.15"/>
<path d="M286.16 523.50L289.46 526.80L286.16 530.10L282.86 526.80Z" fill="#fff" stroke="#000" stroke-width="1.15"/>
<path d="M297.43 528.60L300.73 531.90L297.43 535.20L294.13 531.90Z" fill="#fff" stroke="#000" stroke-width="1.15"/>
<path d="M308.69 539.00L311.99 542.30L308.69 545.60L305.39 542.30Z" fill="#fff" stroke="#000" stroke-width="1.15"/>
<path d="M319.96 548.00L323.26 551.30L319.96 554.60L316.66 551.30Z" fill="#fff" stroke="#000" stroke-width="1.15"/>
<path d="M331.23 549.00L334.53 552.30L331.23 555.60L327.93 552.30Z" fill="#fff" stroke="#000" stroke-width="1.15"/>
<path d="M342.50 560.90L345.80 564.20L342.50 567.50L339.20 564.20Z" fill="#fff" stroke="#000" stroke-width="1.15"/>
<polyline points="252.35,511.30 263.62,523.40 274.89,532.20 286.16,542.00 297.43,547.10 308.69,558.00 319.96,563.00 331.23,569.40 342.50,576.80" fill="none" stroke="#000" stroke-width="0.85"/>
<line x1="252.35" y1="506.00" x2="252.35" y2="518.30" stroke="#000" stroke-width="0.9"/><line x1="249.15" y1="506.00" x2="255.55" y2="506.00" stroke="#000" stroke-width="1"/><line x1="249.15" y1="518.30" x2="255.55" y2="518.30" stroke="#000" stroke-width="1"/>
<line x1="263.62" y1="519.00" x2="263.62" y2="528.00" stroke="#000" stroke-width="0.9"/><line x1="260.42" y1="519.00" x2="266.82" y2="519.00" stroke="#000" stroke-width="1"/><line x1="260.42" y1="528.00" x2="266.82" y2="528.00" stroke="#000" stroke-width="1"/>
<line x1="274.89" y1="526.60" x2="274.89" y2="540.80" stroke="#000" stroke-width="0.9"/><line x1="271.69" y1="526.60" x2="278.09" y2="526.60" stroke="#000" stroke-width="1"/><line x1="271.69" y1="540.80" x2="278.09" y2="540.80" stroke="#000" stroke-width="1"/>
<line x1="286.16" y1="537.00" x2="286.16" y2="547.30" stroke="#000" stroke-width="0.9"/><line x1="282.96" y1="537.00" x2="289.36" y2="537.00" stroke="#000" stroke-width="1"/><line x1="282.96" y1="547.30" x2="289.36" y2="547.30" stroke="#000" stroke-width="1"/>
<line x1="297.43" y1="542.90" x2="297.43" y2="554.50" stroke="#000" stroke-width="0.9"/><line x1="294.23" y1="542.90" x2="300.63" y2="542.90" stroke="#000" stroke-width="1"/><line x1="294.23" y1="554.50" x2="300.63" y2="554.50" stroke="#000" stroke-width="1"/>
<line x1="319.96" y1="557.00" x2="319.96" y2="569.00" stroke="#000" stroke-width="0.9"/><line x1="316.76" y1="557.00" x2="323.16" y2="557.00" stroke="#000" stroke-width="1"/><line x1="316.76" y1="569.00" x2="323.16" y2="569.00" stroke="#000" stroke-width="1"/>
<line x1="331.23" y1="564.40" x2="331.23" y2="574.20" stroke="#000" stroke-width="0.9"/><line x1="328.03" y1="564.40" x2="334.43" y2="564.40" stroke="#000" stroke-width="1"/><line x1="328.03" y1="574.20" x2="334.43" y2="574.20" stroke="#000" stroke-width="1"/>
<line x1="342.50" y1="572.20" x2="342.50" y2="581.10" stroke="#000" stroke-width="0.9"/><line x1="339.30" y1="572.20" x2="345.70" y2="572.20" stroke="#000" stroke-width="1"/><line x1="339.30" y1="581.10" x2="345.70" y2="581.10" stroke="#000" stroke-width="1"/>
<rect x="249.45" y="508.40" width="5.80" height="5.80" fill="#000"/>
<rect x="260.72" y="520.50" width="5.80" height="5.80" fill="#000"/>
<rect x="271.99" y="529.30" width="5.80" height="5.80" fill="#000"/>
<rect x="283.26" y="539.10" width="5.80" height="5.80" fill="#000"/>
<rect x="294.53" y="544.20" width="5.80" height="5.80" fill="#000"/>
<rect x="305.79" y="555.10" width="5.80" height="5.80" fill="#000"/>
<rect x="317.06" y="560.10" width="5.80" height="5.80" fill="#000"/>
<rect x="328.33" y="566.50" width="5.80" height="5.80" fill="#000"/>
<rect x="339.60" y="573.90" width="5.80" height="5.80" fill="#000"/>
<polyline points="252.35,507.50 263.62,519.20 274.89,528.50 286.16,538.20 297.43,545.00 308.69,552.30 319.96,558.00 331.23,554.70 342.50,559.70" fill="none" stroke="#000" stroke-width="0.85"/>
<line x1="286.16" y1="533.00" x2="286.16" y2="543.00" stroke="#000" stroke-width="0.9"/><line x1="282.96" y1="533.00" x2="289.36" y2="533.00" stroke="#000" stroke-width="1"/><line x1="282.96" y1="543.00" x2="289.36" y2="543.00" stroke="#000" stroke-width="1"/>
<line x1="331.23" y1="548.40" x2="331.23" y2="560.70" stroke="#000" stroke-width="0.9"/><line x1="328.03" y1="548.40" x2="334.43" y2="548.40" stroke="#000" stroke-width="1"/><line x1="328.03" y1="560.70" x2="334.43" y2="560.70" stroke="#000" stroke-width="1"/>
<path d="M249.25 504.60L255.45 504.60L252.35 510.40Z" fill="#000"/>
<path d="M260.52 516.30L266.72 516.30L263.62 522.10Z" fill="#000"/>
<path d="M271.79 525.60L277.99 525.60L274.89 531.40Z" fill="#000"/>
<path d="M283.06 535.30L289.26 535.30L286.16 541.10Z" fill="#000"/>
<path d="M294.33 542.10L300.53 542.10L297.43 547.90Z" fill="#000"/>
<path d="M305.59 549.40L311.79 549.40L308.69 555.20Z" fill="#000"/>
<path d="M316.86 555.10L323.06 555.10L319.96 560.90Z" fill="#000"/>
<path d="M328.13 551.80L334.33 551.80L331.23 557.60Z" fill="#000"/>
<path d="M339.40 556.80L345.60 556.80L342.50 562.60Z" fill="#000"/>
<polyline points="418.35,502.70 429.62,513.00 440.89,511.50 452.16,525.00 463.43,541.60 474.69,545.30 485.96,548.90 497.23,563.80 508.50,579.10" fill="none" stroke="#000" stroke-width="0.85"/>
<line x1="418.35" y1="496.00" x2="418.35" y2="509.00" stroke="#000" stroke-width="0.9"/><line x1="415.15" y1="496.00" x2="421.55" y2="496.00" stroke="#000" stroke-width="1"/><line x1="415.15" y1="509.00" x2="421.55" y2="509.00" stroke="#000" stroke-width="1"/>
<line x1="440.89" y1="507.60" x2="440.89" y2="515.50" stroke="#000" stroke-width="0.9"/><line x1="437.69" y1="507.60" x2="444.09" y2="507.60" stroke="#000" stroke-width="1"/><line x1="437.69" y1="515.50" x2="444.09" y2="515.50" stroke="#000" stroke-width="1"/>
<line x1="452.16" y1="520.10" x2="452.16" y2="530.10" stroke="#000" stroke-width="0.9"/><line x1="448.96" y1="520.10" x2="455.36" y2="520.10" stroke="#000" stroke-width="1"/><line x1="448.96" y1="530.10" x2="455.36" y2="530.10" stroke="#000" stroke-width="1"/>
<line x1="463.43" y1="538.40" x2="463.43" y2="545.00" stroke="#000" stroke-width="0.9"/><line x1="460.23" y1="538.40" x2="466.63" y2="538.40" stroke="#000" stroke-width="1"/><line x1="460.23" y1="545.00" x2="466.63" y2="545.00" stroke="#000" stroke-width="1"/>
<line x1="474.69" y1="535.60" x2="474.69" y2="554.80" stroke="#000" stroke-width="0.9"/><line x1="471.49" y1="535.60" x2="477.89" y2="535.60" stroke="#000" stroke-width="1"/><line x1="471.49" y1="554.80" x2="477.89" y2="554.80" stroke="#000" stroke-width="1"/>
<line x1="485.96" y1="545.70" x2="485.96" y2="552.30" stroke="#000" stroke-width="0.9"/><line x1="482.76" y1="545.70" x2="489.16" y2="545.70" stroke="#000" stroke-width="1"/><line x1="482.76" y1="552.30" x2="489.16" y2="552.30" stroke="#000" stroke-width="1"/>
<line x1="497.23" y1="560.40" x2="497.23" y2="567.30" stroke="#000" stroke-width="0.9"/><line x1="494.03" y1="560.40" x2="500.43" y2="560.40" stroke="#000" stroke-width="1"/><line x1="494.03" y1="567.30" x2="500.43" y2="567.30" stroke="#000" stroke-width="1"/>
<line x1="508.50" y1="574.30" x2="508.50" y2="584.00" stroke="#000" stroke-width="0.9"/><line x1="505.30" y1="574.30" x2="511.70" y2="574.30" stroke="#000" stroke-width="1"/><line x1="505.30" y1="584.00" x2="511.70" y2="584.00" stroke="#000" stroke-width="1"/>
<path d="M418.35 499.40L421.65 502.70L418.35 506.00L415.05 502.70Z" fill="#fff" stroke="#000" stroke-width="1.15"/>
<path d="M429.62 509.70L432.92 513.00L429.62 516.30L426.32 513.00Z" fill="#fff" stroke="#000" stroke-width="1.15"/>
<path d="M440.89 508.20L444.19 511.50L440.89 514.80L437.59 511.50Z" fill="#fff" stroke="#000" stroke-width="1.15"/>
<path d="M452.16 521.70L455.46 525.00L452.16 528.30L448.86 525.00Z" fill="#fff" stroke="#000" stroke-width="1.15"/>
<path d="M463.43 538.30L466.73 541.60L463.43 544.90L460.13 541.60Z" fill="#fff" stroke="#000" stroke-width="1.15"/>
<path d="M474.69 542.00L477.99 545.30L474.69 548.60L471.39 545.30Z" fill="#fff" stroke="#000" stroke-width="1.15"/>
<path d="M485.96 545.60L489.26 548.90L485.96 552.20L482.66 548.90Z" fill="#fff" stroke="#000" stroke-width="1.15"/>
<path d="M497.23 560.50L500.53 563.80L497.23 567.10L493.93 563.80Z" fill="#fff" stroke="#000" stroke-width="1.15"/>
<path d="M508.50 575.80L511.80 579.10L508.50 582.40L505.20 579.10Z" fill="#fff" stroke="#000" stroke-width="1.15"/>
<polyline points="418.35,508.80 429.62,521.70 440.89,532.70 452.16,543.00 463.43,554.80 474.69,569.40 485.96,591.70 497.23,591.70 508.50,597.20" fill="none" stroke="#000" stroke-width="0.85"/>
<line x1="418.35" y1="501.00" x2="418.35" y2="517.40" stroke="#000" stroke-width="0.9"/><line x1="415.15" y1="501.00" x2="421.55" y2="501.00" stroke="#000" stroke-width="1"/><line x1="415.15" y1="517.40" x2="421.55" y2="517.40" stroke="#000" stroke-width="1"/>
<line x1="429.62" y1="515.00" x2="429.62" y2="528.20" stroke="#000" stroke-width="0.9"/><line x1="426.42" y1="515.00" x2="432.82" y2="515.00" stroke="#000" stroke-width="1"/><line x1="426.42" y1="528.20" x2="432.82" y2="528.20" stroke="#000" stroke-width="1"/>
<line x1="440.89" y1="518.50" x2="440.89" y2="546.70" stroke="#000" stroke-width="0.9"/><line x1="437.69" y1="518.50" x2="444.09" y2="518.50" stroke="#000" stroke-width="1"/><line x1="437.69" y1="546.70" x2="444.09" y2="546.70" stroke="#000" stroke-width="1"/>
<line x1="452.16" y1="535.70" x2="452.16" y2="548.70" stroke="#000" stroke-width="0.9"/><line x1="448.96" y1="535.70" x2="455.36" y2="535.70" stroke="#000" stroke-width="1"/><line x1="448.96" y1="548.70" x2="455.36" y2="548.70" stroke="#000" stroke-width="1"/>
<line x1="463.43" y1="548.00" x2="463.43" y2="561.70" stroke="#000" stroke-width="0.9"/><line x1="460.23" y1="548.00" x2="466.63" y2="548.00" stroke="#000" stroke-width="1"/><line x1="460.23" y1="561.70" x2="466.63" y2="561.70" stroke="#000" stroke-width="1"/>
<line x1="474.69" y1="565.00" x2="474.69" y2="574.00" stroke="#000" stroke-width="0.9"/><line x1="471.49" y1="565.00" x2="477.89" y2="565.00" stroke="#000" stroke-width="1"/><line x1="471.49" y1="574.00" x2="477.89" y2="574.00" stroke="#000" stroke-width="1"/>
<line x1="485.96" y1="586.10" x2="485.96" y2="602.10" stroke="#000" stroke-width="0.9"/><line x1="482.76" y1="586.10" x2="489.16" y2="586.10" stroke="#000" stroke-width="1"/><line x1="482.76" y1="602.10" x2="489.16" y2="602.10" stroke="#000" stroke-width="1"/>
<line x1="497.23" y1="587.00" x2="497.23" y2="596.80" stroke="#000" stroke-width="0.9"/><line x1="494.03" y1="587.00" x2="500.43" y2="587.00" stroke="#000" stroke-width="1"/><line x1="494.03" y1="596.80" x2="500.43" y2="596.80" stroke="#000" stroke-width="1"/>
<line x1="508.50" y1="590.30" x2="508.50" y2="608.00" stroke="#000" stroke-width="0.9"/><line x1="505.30" y1="590.30" x2="511.70" y2="590.30" stroke="#000" stroke-width="1"/><line x1="505.30" y1="608.00" x2="511.70" y2="608.00" stroke="#000" stroke-width="1"/>
<rect x="415.45" y="505.90" width="5.80" height="5.80" fill="#000"/>
<rect x="426.72" y="518.80" width="5.80" height="5.80" fill="#000"/>
<rect x="437.99" y="529.80" width="5.80" height="5.80" fill="#000"/>
<rect x="449.26" y="540.10" width="5.80" height="5.80" fill="#000"/>
<rect x="460.53" y="551.90" width="5.80" height="5.80" fill="#000"/>
<rect x="471.79" y="566.50" width="5.80" height="5.80" fill="#000"/>
<rect x="483.06" y="588.80" width="5.80" height="5.80" fill="#000"/>
<rect x="494.33" y="588.80" width="5.80" height="5.80" fill="#000"/>
<rect x="505.60" y="594.30" width="5.80" height="5.80" fill="#000"/>
<polyline points="418.35,506.50 429.62,513.50 440.89,522.70 452.16,540.20 463.43,546.40 474.69,559.20 485.96,580.10 497.23,584.70 508.50,588.90" fill="none" stroke="#000" stroke-width="0.85"/>
<line x1="429.62" y1="502.70" x2="429.62" y2="520.00" stroke="#000" stroke-width="0.9"/><line x1="426.42" y1="502.70" x2="432.82" y2="502.70" stroke="#000" stroke-width="1"/><line x1="426.42" y1="520.00" x2="432.82" y2="520.00" stroke="#000" stroke-width="1"/>
<line x1="440.89" y1="516.60" x2="440.89" y2="528.00" stroke="#000" stroke-width="0.9"/><line x1="437.69" y1="516.60" x2="444.09" y2="516.60" stroke="#000" stroke-width="1"/><line x1="437.69" y1="528.00" x2="444.09" y2="528.00" stroke="#000" stroke-width="1"/>
<line x1="485.96" y1="577.00" x2="485.96" y2="583.00" stroke="#000" stroke-width="0.9"/><line x1="482.76" y1="577.00" x2="489.16" y2="577.00" stroke="#000" stroke-width="1"/><line x1="482.76" y1="583.00" x2="489.16" y2="583.00" stroke="#000" stroke-width="1"/>
<line x1="508.50" y1="584.70" x2="508.50" y2="593.00" stroke="#000" stroke-width="0.9"/><line x1="505.30" y1="584.70" x2="511.70" y2="584.70" stroke="#000" stroke-width="1"/><line x1="505.30" y1="593.00" x2="511.70" y2="593.00" stroke="#000" stroke-width="1"/>
<path d="M415.25 503.60L421.45 503.60L418.35 509.40Z" fill="#000"/>
<path d="M426.52 510.60L432.72 510.60L429.62 516.40Z" fill="#000"/>
<path d="M437.79 519.80L443.99 519.80L440.89 525.60Z" fill="#000"/>
<path d="M449.06 537.30L455.26 537.30L452.16 543.10Z" fill="#000"/>
<path d="M460.33 543.50L466.53 543.50L463.43 549.30Z" fill="#000"/>
<path d="M471.59 556.30L477.79 556.30L474.69 562.10Z" fill="#000"/>
<path d="M482.86 577.20L489.06 577.20L485.96 583.00Z" fill="#000"/>
<path d="M494.13 581.80L500.33 581.80L497.23 587.60Z" fill="#000"/>
<path d="M505.40 586.00L511.60 586.00L508.50 591.80Z" fill="#000"/>
<line x1="66" y1="385.5" x2="76" y2="385.5" stroke="#000" stroke-width="0.8"/>
<path d="M71.00 382.40L74.20 385.60L71.00 388.80L67.80 385.60Z" fill="#fff" stroke="#000" stroke-width="1.15"/>
<line x1="66" y1="396.5" x2="76" y2="396.5" stroke="#000" stroke-width="0.8"/>
<rect x="68.10" y="393.10" width="5.80" height="5.80" fill="#000"/>
<line x1="66" y1="407.5" x2="76" y2="407.5" stroke="#000" stroke-width="0.8"/>
<path d="M67.90 404.00L74.10 404.00L71.00 409.80Z" fill="#000"/>
<text x="81.2" y="388.4" font-size="7.3" fill="#000" textLength="37" lengthAdjust="spacingAndGlyphs">hsa-miR-16</text>
<text x="81.2" y="398.9" font-size="7.3" fill="#000" textLength="17.8" lengthAdjust="spacingAndGlyphs">107.2</text>
<text x="81.2" y="409.6" font-size="7.3" fill="#000" textLength="17.8" lengthAdjust="spacingAndGlyphs">107.4</text>
</svg>
</body></html>
